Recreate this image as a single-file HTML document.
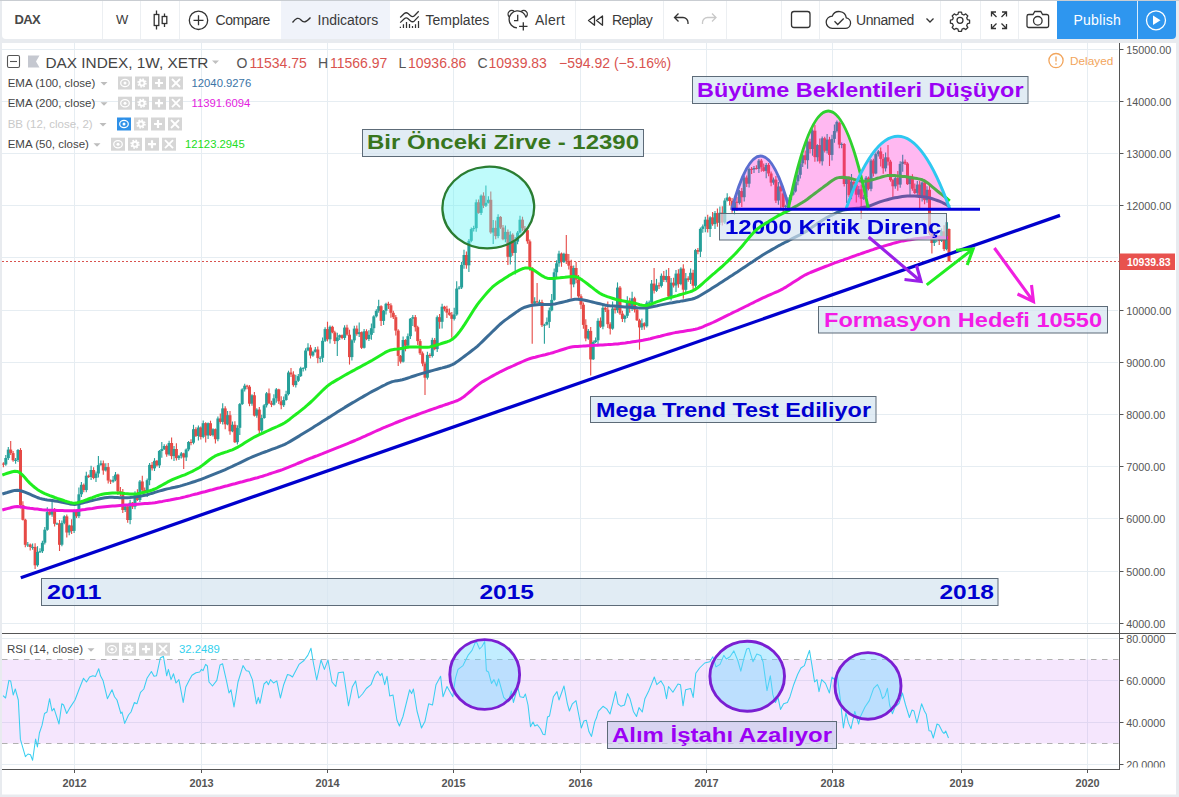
<!DOCTYPE html>
<html><head><meta charset="utf-8"><title>DAX</title>
<style>
html,body{margin:0;padding:0}
body{width:1179px;height:797px;overflow:hidden;position:relative;background:#e8ebef;font-family:"Liberation Sans",sans-serif;color:#333}
.tb{position:absolute;left:2px;top:1px;width:1174px;height:38px;background:#fff;border-radius:0 0 4px 4px}
.topline{position:absolute;left:0;top:0;width:1179px;height:1px;background:#c9cdd2}
.sep{position:absolute;top:1px;width:1px;height:38px;background:#eceff2}
.t{position:absolute;top:11.4px;font-size:14px;line-height:18px;color:#3a3a3a;white-space:nowrap}
.ax{font-family:"Liberation Sans",sans-serif;font-size:10.8px;fill:#555}
.tx{font-family:"Liberation Sans",sans-serif;font-size:10.9px;font-weight:bold;fill:#555}
.lb{font-family:"Liberation Sans",sans-serif;font-weight:bold}
.pl{font-family:"Liberation Sans",sans-serif}
.lg{position:absolute;left:7.7px;font-size:11.5px;line-height:14px;color:#444;white-space:nowrap}
.v{position:absolute;font-size:11.3px;line-height:14px;white-space:nowrap}
.btns{position:absolute;height:13px}
.btns i{position:absolute;top:0;width:14px;height:13px;background:#d6d6d6;display:block}
.oh{position:absolute;top:54px;font-size:14px;line-height:18px;white-space:nowrap;color:#d9534f}
.oh b{font-weight:normal;color:#555}
</style></head>
<body>
<svg width="1179" height="797" viewBox="0 0 1179 797" style="position:absolute;left:0;top:0">
<defs>
<clipPath id="cm"><rect x="2" y="43" width="1117.5" height="589.5"/></clipPath>
<clipPath id="ca"><rect x="1118" y="43" width="60" height="724.4"/></clipPath>
<clipPath id="cr"><rect x="2" y="634.5" width="1117.5" height="134.5"/></clipPath>
</defs>
<rect x="2" y="43" width="1174" height="751.5" fill="#fff"/>
<g stroke="#e6edf2" stroke-width="1" fill="none">
<path d="M74.5 43V632M74.5 634.5V769" />
<path d="M201.5 43V632M201.5 634.5V769" />
<path d="M327.5 43V632M327.5 634.5V769" />
<path d="M453.5 43V632M453.5 634.5V769" />
<path d="M580.5 43V632M580.5 634.5V769" />
<path d="M706.5 43V632M706.5 634.5V769" />
<path d="M832.5 43V632M832.5 634.5V769" />
<path d="M961.5 43V632M961.5 634.5V769" />
<path d="M1087.5 43V632M1087.5 634.5V769" />
<path d="M2 623.5H1118" />
<path d="M2 571.5H1118" />
<path d="M2 518.5H1118" />
<path d="M2 466.5H1118" />
<path d="M2 414.5H1118" />
<path d="M2 362.5H1118" />
<path d="M2 310.5H1118" />
<path d="M2 257.5H1118" />
<path d="M2 205.5H1118" />
<path d="M2 153.5H1118" />
<path d="M2 101.5H1118" />
<path d="M2 49.5H1118" />
<path d="M2 638.5H1118" />
<path d="M2 680.5H1118" />
<path d="M2 722.5H1118" />
<path d="M2 764.5H1118" />
</g>
<!-- RSI band -->
<rect x="2" y="659.5" width="1117" height="84" fill="rgba(205,130,245,0.20)"/>
<path d="M2 659.5H1119M2 743.5H1119" stroke="#b0b0b0" stroke-width="1" stroke-dasharray="5.5 5.5" fill="none"/>
<g clip-path="url(#cr)">
<path d="M3.0 695.6 L5.6 698.0 L8.9 680.4 L10.7 681.0 L13.2 695.0 L15.3 689.0 L18.3 700.0 L20.4 739.4 L25.4 756.7 L28.0 754.0 L30.5 754.7 L32.6 760.3 L35.6 739.0 L37.4 747.0 L39.4 733.0 L42.0 725.4 L44.5 713.5 L47.0 712.0 L49.6 698.7 L52.0 711.0 L54.0 708.4 L59.0 724.0 L61.8 703.8 L63.6 705.0 L66.7 713.5 L70.0 707.6 L75.0 700.0 L78.9 689.8 L83.5 678.3 L86.5 682.0 L89.6 677.0 L92.9 675.8 L95.4 676.6 L98.7 668.7 L100.5 675.8 L103.0 680.4 L107.4 698.7 L112.0 689.8 L114.5 696.7 L117.0 700.0 L120.9 713.5 L122.0 712.0 L124.7 723.4 L128.5 715.0 L131.0 712.0 L134.4 702.5 L136.9 703.8 L140.5 692.3 L143.8 689.0 L147.0 678.3 L151.4 671.5 L154.0 676.3 L156.5 675.8 L160.3 658.0 L163.4 656.2 L166.7 675.8 L168.4 669.4 L171.0 679.6 L173.5 673.8 L176.0 683.0 L178.9 679.6 L183.2 702.5 L185.8 687.0 L189.6 679.6 L192.0 675.3 L196.0 672.7 L199.7 672.0 L201.5 669.4 L203.0 670.7 L205.6 664.4 L207.4 666.0 L209.0 682.0 L212.5 686.0 L216.8 680.4 L220.0 665.0 L222.6 663.8 L226.5 680.9 L229.0 693.0 L231.0 689.8 L234.0 707.0 L238.0 682.0 L243.0 665.6 L246.3 670.7 L248.9 671.2 L252.4 679.6 L256.5 703.8 L258.3 697.4 L260.0 703.3 L264.0 684.0 L266.7 681.4 L268.4 684.7 L270.5 679.6 L273.5 683.0 L276.8 680.9 L280.4 698.0 L283.7 684.7 L287.5 674.5 L290.0 675.3 L292.5 677.0 L299.0 664.4 L304.0 660.5 L307.8 655.4 L311.0 648.3 L313.4 663.0 L316.7 680.0 L321.0 660.0 L324.4 669.4 L328.0 660.0 L332.0 682.0 L335.8 686.5 L338.3 672.7 L343.4 672.0 L348.5 705.8 L352.3 687.0 L355.6 680.9 L358.7 698.0 L362.5 694.0 L366.3 688.5 L371.0 684.7 L375.0 674.5 L377.8 671.2 L380.3 675.8 L382.0 673.3 L384.7 684.7 L387.0 676.3 L389.7 696.0 L393.0 695.0 L396.9 720.0 L399.4 726.0 L403.0 716.5 L409.6 689.8 L411.6 693.6 L413.4 689.0 L417.0 711.0 L421.5 728.0 L424.9 721.6 L428.7 703.8 L432.5 705.0 L436.0 684.7 L440.6 676.3 L443.0 696.7 L447.0 686.5 L452.8 696.7 L455.4 678.3 L458.0 669.4 L463.0 665.6 L468.0 655.4 L472.0 650.4 L476.0 640.7 L479.6 649.0 L482.0 646.5 L484.7 641.5 L486.4 670.7 L488.5 672.0 L491.5 683.4 L494.0 679.6 L496.6 686.0 L498.6 678.9 L503.7 697.4 L508.3 701.8 L511.4 691.0 L513.4 702.5 L517.7 687.0 L520.0 696.7 L523.6 697.4 L525.4 694.0 L528.0 705.0 L530.5 726.7 L533.0 722.0 L534.8 726.0 L537.3 724.7 L540.6 729.0 L543.0 734.3 L545.0 734.8 L547.5 717.0 L549.5 716.0 L553.4 696.7 L557.0 691.6 L559.0 700.0 L564.0 686.0 L567.4 703.8 L569.4 711.0 L572.4 703.8 L576.0 700.7 L581.3 728.0 L583.9 721.0 L586.4 720.3 L589.0 731.8 L591.5 736.4 L594.8 721.6 L596.5 717.8 L598.3 711.4 L603.0 706.3 L606.7 708.9 L610.0 714.0 L612.6 703.8 L615.6 691.6 L618.0 703.8 L621.0 706.3 L624.5 705.0 L627.6 693.6 L630.0 698.7 L633.4 711.4 L636.5 716.5 L639.0 707.6 L642.3 712.0 L644.9 698.7 L648.7 691.0 L651.8 683.4 L654.3 677.0 L656.8 684.7 L661.0 680.9 L664.0 686.0 L666.5 698.7 L668.5 686.5 L672.9 692.3 L678.0 684.0 L680.5 684.7 L683.0 705.8 L685.6 689.8 L690.7 688.5 L693.2 697.4 L695.8 673.3 L699.6 668.0 L704.7 663.0 L709.8 661.8 L712.8 656.7 L716.0 666.9 L720.0 664.4 L723.8 655.4 L726.3 659.0 L730.0 656.7 L733.9 650.9 L737.8 660.5 L740.8 671.2 L744.0 658.0 L746.7 649.0 L749.0 648.3 L753.0 661.8 L756.8 654.0 L760.7 655.4 L763.0 661.8 L767.0 690.6 L770.3 675.8 L772.9 694.9 L775.4 702.5 L778.0 697.4 L780.5 709.4 L783.6 703.8 L787.4 702.5 L790.0 696.7 L793.7 684.7 L797.6 674.5 L800.9 668.0 L804.4 665.6 L807.7 655.4 L809.5 650.4 L812.0 665.6 L814.6 682.0 L817.0 679.6 L819.0 691.6 L821.7 679.6 L825.5 683.4 L829.4 693.0 L832.0 677.0 L834.5 679.6 L837.0 673.3 L840.0 696.7 L843.4 728.0 L845.9 712.7 L848.4 722.9 L851.0 728.7 L854.8 711.4 L858.6 724.0 L860.5 716.5 L865.0 707.0 L869.3 700.6 L873.6 688.3 L877.4 684.6 L880.0 690.0 L882.5 698.7 L885.0 696.0 L887.4 688.3 L889.6 705.0 L892.4 713.7 L895.0 707.0 L899.0 703.4 L902.4 693.0 L905.6 705.0 L909.4 717.5 L912.0 710.0 L914.0 711.0 L916.9 723.0 L921.6 703.8 L924.4 711.0 L926.3 714.3 L929.0 730.7 L931.0 731.0 L933.3 738.0 L937.0 724.0 L939.0 725.0 L942.3 731.6 L944.0 733.5 L945.7 731.0 L948.5 738.0" fill="none" stroke="#3acff0" stroke-width="1.05" stroke-linejoin="round"/>
</g>
<g clip-path="url(#cm)">
<!-- current price line -->
<path d="M2 261.5H1119.5" stroke="#d9534f" stroke-width="1" stroke-dasharray="2 2" fill="none"/>
<g>
<path d="M3.4 462.2V467.3" stroke="#e64a46" stroke-width="1.1"/>
<rect x="1.9" y="463.6" width="3" height="1.0" fill="#e64a46"/>
<path d="M5.8 454.9V465.8" stroke="#26a09a" stroke-width="1.1"/>
<rect x="4.3" y="458.0" width="3" height="6.5" fill="#26a09a"/>
<path d="M8.3 446.9V459.9" stroke="#26a09a" stroke-width="1.1"/>
<rect x="6.8" y="449.6" width="3" height="8.5" fill="#26a09a"/>
<path d="M10.7 441.0V454.9" stroke="#e64a46" stroke-width="1.1"/>
<rect x="9.2" y="449.6" width="3" height="3.5" fill="#e64a46"/>
<path d="M13.1 450.9V461.7" stroke="#e64a46" stroke-width="1.1"/>
<rect x="11.6" y="453.1" width="3" height="7.2" fill="#e64a46"/>
<path d="M15.6 458.0V463.8" stroke="#26a09a" stroke-width="1.1"/>
<rect x="14.1" y="459.9" width="3" height="1.0" fill="#26a09a"/>
<path d="M18.0 449.0V462.1" stroke="#26a09a" stroke-width="1.1"/>
<rect x="16.5" y="450.0" width="3" height="10.0" fill="#26a09a"/>
<path d="M20.5 448.1V508.4" stroke="#e64a46" stroke-width="1.1"/>
<rect x="19.0" y="450.0" width="3" height="55.1" fill="#e64a46"/>
<path d="M22.9 501.2V520.5" stroke="#e64a46" stroke-width="1.1"/>
<rect x="21.4" y="505.1" width="3" height="14.7" fill="#e64a46"/>
<path d="M25.3 518.8V547.2" stroke="#e64a46" stroke-width="1.1"/>
<rect x="23.8" y="519.7" width="3" height="25.1" fill="#e64a46"/>
<path d="M27.8 542.0V546.9" stroke="#26a09a" stroke-width="1.1"/>
<rect x="26.3" y="544.5" width="3" height="1.0" fill="#26a09a"/>
<path d="M30.2 543.5V550.4" stroke="#e64a46" stroke-width="1.1"/>
<rect x="28.7" y="544.5" width="3" height="2.5" fill="#e64a46"/>
<path d="M32.6 543.6V549.7" stroke="#26a09a" stroke-width="1.1"/>
<rect x="31.1" y="546.9" width="3" height="1.0" fill="#26a09a"/>
<path d="M35.1 543.2V569.0" stroke="#e64a46" stroke-width="1.1"/>
<rect x="33.6" y="546.9" width="3" height="18.4" fill="#e64a46"/>
<path d="M37.5 546.2V566.7" stroke="#26a09a" stroke-width="1.1"/>
<rect x="36.0" y="552.0" width="3" height="13.2" fill="#26a09a"/>
<path d="M40.0 548.3V553.1" stroke="#26a09a" stroke-width="1.1"/>
<rect x="38.5" y="551.2" width="3" height="1.0" fill="#26a09a"/>
<path d="M42.4 540.8V553.0" stroke="#26a09a" stroke-width="1.1"/>
<rect x="40.9" y="542.8" width="3" height="8.4" fill="#26a09a"/>
<path d="M44.8 527.0V544.6" stroke="#26a09a" stroke-width="1.1"/>
<rect x="43.3" y="529.7" width="3" height="13.0" fill="#26a09a"/>
<path d="M47.3 507.3V530.8" stroke="#26a09a" stroke-width="1.1"/>
<rect x="45.8" y="511.9" width="3" height="17.9" fill="#26a09a"/>
<path d="M49.7 510.0V515.6" stroke="#e64a46" stroke-width="1.1"/>
<rect x="48.2" y="511.9" width="3" height="2.7" fill="#e64a46"/>
<path d="M52.1 499.0V516.7" stroke="#26a09a" stroke-width="1.1"/>
<rect x="50.6" y="510.7" width="3" height="3.9" fill="#26a09a"/>
<path d="M54.6 508.1V526.6" stroke="#e64a46" stroke-width="1.1"/>
<rect x="53.1" y="510.7" width="3" height="13.1" fill="#e64a46"/>
<path d="M57.0 522.4V524.9" stroke="#26a09a" stroke-width="1.1"/>
<rect x="55.5" y="523.4" width="3" height="1.0" fill="#26a09a"/>
<path d="M59.5 520.0V551.0" stroke="#e64a46" stroke-width="1.1"/>
<rect x="58.0" y="523.4" width="3" height="21.4" fill="#e64a46"/>
<path d="M61.9 520.4V546.2" stroke="#26a09a" stroke-width="1.1"/>
<rect x="60.4" y="522.9" width="3" height="21.8" fill="#26a09a"/>
<path d="M64.3 515.3V524.2" stroke="#26a09a" stroke-width="1.1"/>
<rect x="62.8" y="516.4" width="3" height="6.5" fill="#26a09a"/>
<path d="M66.8 514.5V537.5" stroke="#e64a46" stroke-width="1.1"/>
<rect x="65.3" y="516.4" width="3" height="16.1" fill="#e64a46"/>
<path d="M69.2 524.8V535.2" stroke="#26a09a" stroke-width="1.1"/>
<rect x="67.7" y="525.5" width="3" height="7.0" fill="#26a09a"/>
<path d="M71.6 519.3V534.0" stroke="#e64a46" stroke-width="1.1"/>
<rect x="70.1" y="525.5" width="3" height="5.5" fill="#e64a46"/>
<path d="M74.1 509.6V533.1" stroke="#26a09a" stroke-width="1.1"/>
<rect x="72.6" y="511.2" width="3" height="19.7" fill="#26a09a"/>
<path d="M76.5 509.8V518.1" stroke="#e64a46" stroke-width="1.1"/>
<rect x="75.0" y="511.2" width="3" height="5.0" fill="#e64a46"/>
<path d="M78.9 487.6V518.0" stroke="#26a09a" stroke-width="1.1"/>
<rect x="77.4" y="494.3" width="3" height="21.9" fill="#26a09a"/>
<path d="M81.4 482.0V496.9" stroke="#26a09a" stroke-width="1.1"/>
<rect x="79.9" y="484.8" width="3" height="9.5" fill="#26a09a"/>
<path d="M83.8 483.4V492.2" stroke="#e64a46" stroke-width="1.1"/>
<rect x="82.3" y="484.8" width="3" height="5.2" fill="#e64a46"/>
<path d="M86.3 471.7V492.3" stroke="#26a09a" stroke-width="1.1"/>
<rect x="84.8" y="475.7" width="3" height="14.4" fill="#26a09a"/>
<path d="M88.7 474.6V478.1" stroke="#e64a46" stroke-width="1.1"/>
<rect x="87.2" y="475.7" width="3" height="1.3" fill="#e64a46"/>
<path d="M91.1 465.8V480.1" stroke="#26a09a" stroke-width="1.1"/>
<rect x="89.6" y="470.0" width="3" height="7.0" fill="#26a09a"/>
<path d="M93.6 467.2V479.3" stroke="#e64a46" stroke-width="1.1"/>
<rect x="92.1" y="470.0" width="3" height="8.0" fill="#e64a46"/>
<path d="M96.0 471.4V482.1" stroke="#26a09a" stroke-width="1.1"/>
<rect x="94.5" y="473.5" width="3" height="4.4" fill="#26a09a"/>
<path d="M98.4 456.0V477.6" stroke="#26a09a" stroke-width="1.1"/>
<rect x="96.9" y="465.1" width="3" height="8.4" fill="#26a09a"/>
<path d="M100.9 460.4V465.8" stroke="#26a09a" stroke-width="1.1"/>
<rect x="99.4" y="463.3" width="3" height="1.8" fill="#26a09a"/>
<path d="M103.3 460.5V474.7" stroke="#e64a46" stroke-width="1.1"/>
<rect x="101.8" y="463.3" width="3" height="7.2" fill="#e64a46"/>
<path d="M105.8 463.3V471.4" stroke="#26a09a" stroke-width="1.1"/>
<rect x="104.3" y="467.1" width="3" height="3.3" fill="#26a09a"/>
<path d="M108.2 463.1V483.5" stroke="#e64a46" stroke-width="1.1"/>
<rect x="106.7" y="467.1" width="3" height="13.4" fill="#e64a46"/>
<path d="M110.6 479.4V483.9" stroke="#e64a46" stroke-width="1.1"/>
<rect x="109.1" y="480.5" width="3" height="1.0" fill="#e64a46"/>
<path d="M113.1 475.9V482.8" stroke="#26a09a" stroke-width="1.1"/>
<rect x="111.6" y="479.8" width="3" height="1.8" fill="#26a09a"/>
<path d="M115.5 472.0V481.2" stroke="#26a09a" stroke-width="1.1"/>
<rect x="114.0" y="474.6" width="3" height="5.2" fill="#26a09a"/>
<path d="M117.9 473.7V494.9" stroke="#e64a46" stroke-width="1.1"/>
<rect x="116.4" y="474.6" width="3" height="16.7" fill="#e64a46"/>
<path d="M120.4 487.0V496.2" stroke="#e64a46" stroke-width="1.1"/>
<rect x="118.9" y="491.3" width="3" height="2.8" fill="#e64a46"/>
<path d="M122.8 489.1V513.0" stroke="#e64a46" stroke-width="1.1"/>
<rect x="121.3" y="494.1" width="3" height="15.9" fill="#e64a46"/>
<path d="M125.2 505.6V512.0" stroke="#26a09a" stroke-width="1.1"/>
<rect x="123.8" y="506.4" width="3" height="3.6" fill="#26a09a"/>
<path d="M127.7 504.6V522.8" stroke="#e64a46" stroke-width="1.1"/>
<rect x="126.2" y="506.4" width="3" height="13.6" fill="#e64a46"/>
<path d="M130.1 499.7V524.2" stroke="#26a09a" stroke-width="1.1"/>
<rect x="128.6" y="502.7" width="3" height="17.3" fill="#26a09a"/>
<path d="M132.6 502.0V509.1" stroke="#e64a46" stroke-width="1.1"/>
<rect x="131.1" y="502.7" width="3" height="3.9" fill="#e64a46"/>
<path d="M135.0 491.3V509.3" stroke="#26a09a" stroke-width="1.1"/>
<rect x="133.5" y="493.4" width="3" height="13.3" fill="#26a09a"/>
<path d="M137.4 489.3V500.9" stroke="#e64a46" stroke-width="1.1"/>
<rect x="135.9" y="493.4" width="3" height="6.6" fill="#e64a46"/>
<path d="M139.9 480.1V502.1" stroke="#26a09a" stroke-width="1.1"/>
<rect x="138.4" y="481.5" width="3" height="18.5" fill="#26a09a"/>
<path d="M142.3 475.8V492.6" stroke="#e64a46" stroke-width="1.1"/>
<rect x="140.8" y="481.5" width="3" height="8.4" fill="#e64a46"/>
<path d="M144.7 487.6V493.8" stroke="#e64a46" stroke-width="1.1"/>
<rect x="143.2" y="489.9" width="3" height="1.7" fill="#e64a46"/>
<path d="M147.2 478.5V497.0" stroke="#26a09a" stroke-width="1.1"/>
<rect x="145.7" y="480.2" width="3" height="11.4" fill="#26a09a"/>
<path d="M149.6 463.1V485.3" stroke="#26a09a" stroke-width="1.1"/>
<rect x="148.1" y="464.9" width="3" height="15.3" fill="#26a09a"/>
<path d="M152.1 462.1V470.5" stroke="#e64a46" stroke-width="1.1"/>
<rect x="150.6" y="464.9" width="3" height="3.4" fill="#e64a46"/>
<path d="M154.5 458.1V471.0" stroke="#26a09a" stroke-width="1.1"/>
<rect x="153.0" y="460.8" width="3" height="7.5" fill="#26a09a"/>
<path d="M156.9 460.0V466.6" stroke="#e64a46" stroke-width="1.1"/>
<rect x="155.4" y="460.8" width="3" height="4.6" fill="#e64a46"/>
<path d="M159.4 450.1V468.1" stroke="#26a09a" stroke-width="1.1"/>
<rect x="157.9" y="451.0" width="3" height="14.4" fill="#26a09a"/>
<path d="M161.8 442.0V457.8" stroke="#26a09a" stroke-width="1.1"/>
<rect x="160.3" y="449.1" width="3" height="1.9" fill="#26a09a"/>
<path d="M164.2 444.3V450.0" stroke="#26a09a" stroke-width="1.1"/>
<rect x="162.7" y="446.0" width="3" height="3.2" fill="#26a09a"/>
<path d="M166.7 444.5V456.7" stroke="#e64a46" stroke-width="1.1"/>
<rect x="165.2" y="446.0" width="3" height="8.4" fill="#e64a46"/>
<path d="M169.1 440.8V455.8" stroke="#26a09a" stroke-width="1.1"/>
<rect x="167.6" y="443.0" width="3" height="11.4" fill="#26a09a"/>
<path d="M171.6 437.4V459.2" stroke="#e64a46" stroke-width="1.1"/>
<rect x="170.1" y="443.0" width="3" height="13.1" fill="#e64a46"/>
<path d="M174.0 446.0V461.0" stroke="#26a09a" stroke-width="1.1"/>
<rect x="172.5" y="449.0" width="3" height="7.1" fill="#26a09a"/>
<path d="M176.4 443.3V460.6" stroke="#e64a46" stroke-width="1.1"/>
<rect x="174.9" y="449.0" width="3" height="9.1" fill="#e64a46"/>
<path d="M178.9 454.9V459.9" stroke="#26a09a" stroke-width="1.1"/>
<rect x="177.4" y="455.9" width="3" height="2.2" fill="#26a09a"/>
<path d="M181.3 452.0V458.4" stroke="#26a09a" stroke-width="1.1"/>
<rect x="179.8" y="453.4" width="3" height="2.5" fill="#26a09a"/>
<path d="M183.7 452.7V469.0" stroke="#e64a46" stroke-width="1.1"/>
<rect x="182.2" y="453.4" width="3" height="4.1" fill="#e64a46"/>
<path d="M186.2 448.5V461.1" stroke="#26a09a" stroke-width="1.1"/>
<rect x="184.7" y="449.5" width="3" height="7.9" fill="#26a09a"/>
<path d="M188.6 440.9V451.3" stroke="#26a09a" stroke-width="1.1"/>
<rect x="187.1" y="442.0" width="3" height="7.5" fill="#26a09a"/>
<path d="M191.0 439.2V445.2" stroke="#e64a46" stroke-width="1.1"/>
<rect x="189.5" y="442.0" width="3" height="1.0" fill="#e64a46"/>
<path d="M193.5 424.8V444.3" stroke="#26a09a" stroke-width="1.1"/>
<rect x="192.0" y="429.2" width="3" height="13.5" fill="#26a09a"/>
<path d="M195.9 427.3V437.1" stroke="#e64a46" stroke-width="1.1"/>
<rect x="194.4" y="429.2" width="3" height="6.7" fill="#e64a46"/>
<path d="M198.4 425.4V440.6" stroke="#26a09a" stroke-width="1.1"/>
<rect x="196.9" y="427.5" width="3" height="8.5" fill="#26a09a"/>
<path d="M200.8 426.4V439.4" stroke="#e64a46" stroke-width="1.1"/>
<rect x="199.3" y="427.5" width="3" height="9.5" fill="#e64a46"/>
<path d="M203.2 420.4V438.2" stroke="#26a09a" stroke-width="1.1"/>
<rect x="201.7" y="423.2" width="3" height="13.7" fill="#26a09a"/>
<path d="M205.7 422.3V442.4" stroke="#e64a46" stroke-width="1.1"/>
<rect x="204.2" y="423.2" width="3" height="12.2" fill="#e64a46"/>
<path d="M208.1 422.5V439.0" stroke="#26a09a" stroke-width="1.1"/>
<rect x="206.6" y="423.2" width="3" height="12.3" fill="#26a09a"/>
<path d="M210.5 420.7V436.0" stroke="#e64a46" stroke-width="1.1"/>
<rect x="209.0" y="423.2" width="3" height="12.0" fill="#e64a46"/>
<path d="M213.0 428.3V436.5" stroke="#26a09a" stroke-width="1.1"/>
<rect x="211.5" y="429.2" width="3" height="6.0" fill="#26a09a"/>
<path d="M215.4 428.5V443.4" stroke="#e64a46" stroke-width="1.1"/>
<rect x="213.9" y="429.2" width="3" height="10.0" fill="#e64a46"/>
<path d="M217.9 416.4V441.3" stroke="#26a09a" stroke-width="1.1"/>
<rect x="216.4" y="418.5" width="3" height="20.7" fill="#26a09a"/>
<path d="M220.3 413.4V423.8" stroke="#e64a46" stroke-width="1.1"/>
<rect x="218.8" y="418.5" width="3" height="3.4" fill="#e64a46"/>
<path d="M222.7 403.3V424.5" stroke="#26a09a" stroke-width="1.1"/>
<rect x="221.2" y="408.4" width="3" height="13.5" fill="#26a09a"/>
<path d="M225.2 406.2V429.3" stroke="#e64a46" stroke-width="1.1"/>
<rect x="223.7" y="408.4" width="3" height="15.9" fill="#e64a46"/>
<path d="M227.6 411.1V425.2" stroke="#26a09a" stroke-width="1.1"/>
<rect x="226.1" y="415.2" width="3" height="9.2" fill="#26a09a"/>
<path d="M230.0 410.9V434.8" stroke="#e64a46" stroke-width="1.1"/>
<rect x="228.5" y="415.2" width="3" height="16.1" fill="#e64a46"/>
<path d="M232.5 421.5V432.2" stroke="#26a09a" stroke-width="1.1"/>
<rect x="231.0" y="424.8" width="3" height="6.5" fill="#26a09a"/>
<path d="M234.9 421.2V443.0" stroke="#e64a46" stroke-width="1.1"/>
<rect x="233.4" y="424.8" width="3" height="17.4" fill="#e64a46"/>
<path d="M237.4 425.3V444.6" stroke="#26a09a" stroke-width="1.1"/>
<rect x="235.9" y="427.8" width="3" height="14.4" fill="#26a09a"/>
<path d="M239.8 403.0V435.1" stroke="#26a09a" stroke-width="1.1"/>
<rect x="238.3" y="404.1" width="3" height="23.7" fill="#26a09a"/>
<path d="M242.2 388.2V405.1" stroke="#26a09a" stroke-width="1.1"/>
<rect x="240.7" y="389.4" width="3" height="14.7" fill="#26a09a"/>
<path d="M244.7 383.8V391.6" stroke="#26a09a" stroke-width="1.1"/>
<rect x="243.2" y="385.7" width="3" height="3.7" fill="#26a09a"/>
<path d="M247.1 384.8V389.2" stroke="#e64a46" stroke-width="1.1"/>
<rect x="245.6" y="385.7" width="3" height="1.0" fill="#e64a46"/>
<path d="M249.5 385.1V406.2" stroke="#e64a46" stroke-width="1.1"/>
<rect x="248.0" y="386.7" width="3" height="17.0" fill="#e64a46"/>
<path d="M252.0 394.3V405.7" stroke="#26a09a" stroke-width="1.1"/>
<rect x="250.5" y="395.3" width="3" height="8.4" fill="#26a09a"/>
<path d="M254.4 391.9V416.6" stroke="#e64a46" stroke-width="1.1"/>
<rect x="252.9" y="395.3" width="3" height="20.3" fill="#e64a46"/>
<path d="M256.8 408.3V417.8" stroke="#26a09a" stroke-width="1.1"/>
<rect x="255.3" y="409.6" width="3" height="6.0" fill="#26a09a"/>
<path d="M259.3 407.1V433.5" stroke="#e64a46" stroke-width="1.1"/>
<rect x="257.8" y="409.6" width="3" height="20.9" fill="#e64a46"/>
<path d="M261.7 414.7V434.1" stroke="#26a09a" stroke-width="1.1"/>
<rect x="260.2" y="418.0" width="3" height="12.5" fill="#26a09a"/>
<path d="M264.2 404.0V418.8" stroke="#26a09a" stroke-width="1.1"/>
<rect x="262.7" y="405.3" width="3" height="12.7" fill="#26a09a"/>
<path d="M266.6 391.9V407.4" stroke="#26a09a" stroke-width="1.1"/>
<rect x="265.1" y="393.3" width="3" height="12.0" fill="#26a09a"/>
<path d="M269.0 388.5V404.0" stroke="#e64a46" stroke-width="1.1"/>
<rect x="267.5" y="393.3" width="3" height="10.0" fill="#e64a46"/>
<path d="M271.5 400.8V407.1" stroke="#e64a46" stroke-width="1.1"/>
<rect x="270.0" y="403.2" width="3" height="1.5" fill="#e64a46"/>
<path d="M273.9 394.3V405.5" stroke="#26a09a" stroke-width="1.1"/>
<rect x="272.4" y="398.3" width="3" height="6.4" fill="#26a09a"/>
<path d="M276.3 388.0V402.8" stroke="#26a09a" stroke-width="1.1"/>
<rect x="274.8" y="389.4" width="3" height="8.9" fill="#26a09a"/>
<path d="M278.8 388.7V403.9" stroke="#e64a46" stroke-width="1.1"/>
<rect x="277.3" y="389.4" width="3" height="11.9" fill="#e64a46"/>
<path d="M281.2 396.2V409.2" stroke="#e64a46" stroke-width="1.1"/>
<rect x="279.7" y="401.3" width="3" height="3.9" fill="#e64a46"/>
<path d="M283.7 396.4V407.0" stroke="#26a09a" stroke-width="1.1"/>
<rect x="282.2" y="400.0" width="3" height="5.2" fill="#26a09a"/>
<path d="M286.1 390.7V400.8" stroke="#26a09a" stroke-width="1.1"/>
<rect x="284.6" y="394.2" width="3" height="5.8" fill="#26a09a"/>
<path d="M288.5 370.7V395.4" stroke="#26a09a" stroke-width="1.1"/>
<rect x="287.0" y="372.5" width="3" height="21.6" fill="#26a09a"/>
<path d="M291.0 367.9V377.0" stroke="#e64a46" stroke-width="1.1"/>
<rect x="289.5" y="372.5" width="3" height="1.9" fill="#e64a46"/>
<path d="M293.4 371.3V386.7" stroke="#e64a46" stroke-width="1.1"/>
<rect x="291.9" y="374.4" width="3" height="10.7" fill="#e64a46"/>
<path d="M295.8 374.8V387.6" stroke="#26a09a" stroke-width="1.1"/>
<rect x="294.3" y="380.8" width="3" height="4.3" fill="#26a09a"/>
<path d="M298.3 374.1V381.9" stroke="#26a09a" stroke-width="1.1"/>
<rect x="296.8" y="376.1" width="3" height="4.7" fill="#26a09a"/>
<path d="M300.7 366.7V377.0" stroke="#26a09a" stroke-width="1.1"/>
<rect x="299.2" y="368.3" width="3" height="7.8" fill="#26a09a"/>
<path d="M303.2 367.2V371.6" stroke="#26a09a" stroke-width="1.1"/>
<rect x="301.7" y="367.9" width="3" height="1.0" fill="#26a09a"/>
<path d="M305.6 348.2V370.6" stroke="#26a09a" stroke-width="1.1"/>
<rect x="304.1" y="350.5" width="3" height="17.4" fill="#26a09a"/>
<path d="M308.0 343.2V351.3" stroke="#26a09a" stroke-width="1.1"/>
<rect x="306.5" y="347.5" width="3" height="3.0" fill="#26a09a"/>
<path d="M310.5 344.9V358.5" stroke="#e64a46" stroke-width="1.1"/>
<rect x="309.0" y="347.5" width="3" height="8.0" fill="#e64a46"/>
<path d="M312.9 350.7V356.7" stroke="#26a09a" stroke-width="1.1"/>
<rect x="311.4" y="351.8" width="3" height="3.7" fill="#26a09a"/>
<path d="M315.3 347.0V352.6" stroke="#26a09a" stroke-width="1.1"/>
<rect x="313.8" y="349.5" width="3" height="2.3" fill="#26a09a"/>
<path d="M317.8 346.5V363.3" stroke="#e64a46" stroke-width="1.1"/>
<rect x="316.3" y="349.5" width="3" height="8.6" fill="#e64a46"/>
<path d="M320.2 356.2V362.7" stroke="#26a09a" stroke-width="1.1"/>
<rect x="318.7" y="357.8" width="3" height="1.0" fill="#26a09a"/>
<path d="M322.6 337.4V362.1" stroke="#26a09a" stroke-width="1.1"/>
<rect x="321.1" y="340.8" width="3" height="17.0" fill="#26a09a"/>
<path d="M325.1 327.3V342.1" stroke="#26a09a" stroke-width="1.1"/>
<rect x="323.6" y="329.1" width="3" height="11.7" fill="#26a09a"/>
<path d="M327.5 321.7V341.4" stroke="#e64a46" stroke-width="1.1"/>
<rect x="326.0" y="329.1" width="3" height="10.1" fill="#e64a46"/>
<path d="M330.0 325.4V343.4" stroke="#26a09a" stroke-width="1.1"/>
<rect x="328.5" y="326.8" width="3" height="12.5" fill="#26a09a"/>
<path d="M332.4 325.8V333.3" stroke="#e64a46" stroke-width="1.1"/>
<rect x="330.9" y="326.8" width="3" height="5.6" fill="#e64a46"/>
<path d="M334.8 330.8V344.0" stroke="#e64a46" stroke-width="1.1"/>
<rect x="333.3" y="332.4" width="3" height="8.7" fill="#e64a46"/>
<path d="M337.3 332.8V356.0" stroke="#26a09a" stroke-width="1.1"/>
<rect x="335.8" y="337.4" width="3" height="3.7" fill="#26a09a"/>
<path d="M339.7 334.5V339.9" stroke="#26a09a" stroke-width="1.1"/>
<rect x="338.2" y="335.2" width="3" height="2.2" fill="#26a09a"/>
<path d="M342.1 334.4V339.3" stroke="#e64a46" stroke-width="1.1"/>
<rect x="340.6" y="335.2" width="3" height="2.8" fill="#e64a46"/>
<path d="M344.6 325.3V339.9" stroke="#26a09a" stroke-width="1.1"/>
<rect x="343.1" y="327.6" width="3" height="10.3" fill="#26a09a"/>
<path d="M347.0 324.7V335.8" stroke="#e64a46" stroke-width="1.1"/>
<rect x="345.5" y="327.6" width="3" height="7.0" fill="#e64a46"/>
<path d="M349.5 329.7V364.6" stroke="#e64a46" stroke-width="1.1"/>
<rect x="348.0" y="334.7" width="3" height="22.4" fill="#e64a46"/>
<path d="M351.9 339.2V360.5" stroke="#26a09a" stroke-width="1.1"/>
<rect x="350.4" y="340.3" width="3" height="16.8" fill="#26a09a"/>
<path d="M354.3 325.8V342.7" stroke="#26a09a" stroke-width="1.1"/>
<rect x="352.8" y="328.6" width="3" height="11.8" fill="#26a09a"/>
<path d="M356.8 325.4V335.8" stroke="#e64a46" stroke-width="1.1"/>
<rect x="355.3" y="328.6" width="3" height="5.5" fill="#e64a46"/>
<path d="M359.2 322.4V336.9" stroke="#26a09a" stroke-width="1.1"/>
<rect x="357.7" y="332.2" width="3" height="1.9" fill="#26a09a"/>
<path d="M361.6 331.4V349.1" stroke="#e64a46" stroke-width="1.1"/>
<rect x="360.1" y="332.2" width="3" height="15.6" fill="#e64a46"/>
<path d="M364.1 328.9V348.6" stroke="#26a09a" stroke-width="1.1"/>
<rect x="362.6" y="331.3" width="3" height="16.5" fill="#26a09a"/>
<path d="M366.5 329.3V340.2" stroke="#e64a46" stroke-width="1.1"/>
<rect x="365.0" y="331.3" width="3" height="7.8" fill="#e64a46"/>
<path d="M368.9 330.3V341.0" stroke="#26a09a" stroke-width="1.1"/>
<rect x="367.4" y="334.8" width="3" height="4.2" fill="#26a09a"/>
<path d="M371.4 323.4V339.8" stroke="#26a09a" stroke-width="1.1"/>
<rect x="369.9" y="328.2" width="3" height="6.6" fill="#26a09a"/>
<path d="M373.8 315.3V333.1" stroke="#26a09a" stroke-width="1.1"/>
<rect x="372.3" y="316.4" width="3" height="11.8" fill="#26a09a"/>
<path d="M376.3 309.3V317.4" stroke="#26a09a" stroke-width="1.1"/>
<rect x="374.8" y="310.9" width="3" height="5.5" fill="#26a09a"/>
<path d="M378.7 299.8V312.7" stroke="#26a09a" stroke-width="1.1"/>
<rect x="377.2" y="306.2" width="3" height="4.7" fill="#26a09a"/>
<path d="M381.1 305.2V325.9" stroke="#e64a46" stroke-width="1.1"/>
<rect x="379.6" y="306.2" width="3" height="14.7" fill="#e64a46"/>
<path d="M383.6 309.9V325.0" stroke="#26a09a" stroke-width="1.1"/>
<rect x="382.1" y="310.7" width="3" height="10.2" fill="#26a09a"/>
<path d="M386.0 302.8V314.5" stroke="#26a09a" stroke-width="1.1"/>
<rect x="384.5" y="303.8" width="3" height="6.9" fill="#26a09a"/>
<path d="M388.4 301.8V308.9" stroke="#e64a46" stroke-width="1.1"/>
<rect x="386.9" y="303.8" width="3" height="1.5" fill="#e64a46"/>
<path d="M390.9 303.2V317.7" stroke="#e64a46" stroke-width="1.1"/>
<rect x="389.4" y="305.3" width="3" height="7.5" fill="#e64a46"/>
<path d="M393.3 310.7V319.0" stroke="#e64a46" stroke-width="1.1"/>
<rect x="391.8" y="312.8" width="3" height="4.4" fill="#e64a46"/>
<path d="M395.8 315.1V335.5" stroke="#e64a46" stroke-width="1.1"/>
<rect x="394.3" y="317.2" width="3" height="13.4" fill="#e64a46"/>
<path d="M398.2 329.2V366.0" stroke="#e64a46" stroke-width="1.1"/>
<rect x="396.7" y="330.6" width="3" height="25.3" fill="#e64a46"/>
<path d="M400.6 355.1V363.4" stroke="#e64a46" stroke-width="1.1"/>
<rect x="399.1" y="355.9" width="3" height="5.8" fill="#e64a46"/>
<path d="M403.1 336.5V362.6" stroke="#26a09a" stroke-width="1.1"/>
<rect x="401.6" y="340.0" width="3" height="21.7" fill="#26a09a"/>
<path d="M405.5 339.2V351.3" stroke="#e64a46" stroke-width="1.1"/>
<rect x="404.0" y="340.0" width="3" height="5.6" fill="#e64a46"/>
<path d="M407.9 333.6V348.6" stroke="#26a09a" stroke-width="1.1"/>
<rect x="406.4" y="336.2" width="3" height="9.4" fill="#26a09a"/>
<path d="M410.4 318.0V338.9" stroke="#26a09a" stroke-width="1.1"/>
<rect x="408.9" y="318.7" width="3" height="17.5" fill="#26a09a"/>
<path d="M412.8 315.0V326.0" stroke="#26a09a" stroke-width="1.1"/>
<rect x="411.3" y="317.2" width="3" height="1.5" fill="#26a09a"/>
<path d="M415.3 315.1V331.5" stroke="#e64a46" stroke-width="1.1"/>
<rect x="413.8" y="317.2" width="3" height="10.0" fill="#e64a46"/>
<path d="M417.7 325.7V344.9" stroke="#e64a46" stroke-width="1.1"/>
<rect x="416.2" y="327.2" width="3" height="13.9" fill="#e64a46"/>
<path d="M420.1 339.1V355.1" stroke="#e64a46" stroke-width="1.1"/>
<rect x="418.6" y="341.1" width="3" height="12.2" fill="#e64a46"/>
<path d="M422.6 351.5V366.2" stroke="#e64a46" stroke-width="1.1"/>
<rect x="421.1" y="353.3" width="3" height="10.3" fill="#e64a46"/>
<path d="M425.0 361.8V395.0" stroke="#e64a46" stroke-width="1.1"/>
<rect x="423.5" y="363.6" width="3" height="14.1" fill="#e64a46"/>
<path d="M427.4 351.8V379.5" stroke="#26a09a" stroke-width="1.1"/>
<rect x="425.9" y="354.9" width="3" height="22.8" fill="#26a09a"/>
<path d="M429.9 353.2V358.1" stroke="#e64a46" stroke-width="1.1"/>
<rect x="428.4" y="354.9" width="3" height="1.1" fill="#e64a46"/>
<path d="M432.3 337.7V357.4" stroke="#26a09a" stroke-width="1.1"/>
<rect x="430.8" y="339.9" width="3" height="16.1" fill="#26a09a"/>
<path d="M434.7 338.1V350.3" stroke="#e64a46" stroke-width="1.1"/>
<rect x="433.2" y="339.9" width="3" height="9.2" fill="#e64a46"/>
<path d="M437.2 315.6V351.9" stroke="#26a09a" stroke-width="1.1"/>
<rect x="435.7" y="317.2" width="3" height="31.9" fill="#26a09a"/>
<path d="M439.6 314.1V328.7" stroke="#e64a46" stroke-width="1.1"/>
<rect x="438.1" y="317.2" width="3" height="4.6" fill="#e64a46"/>
<path d="M442.1 303.8V328.5" stroke="#26a09a" stroke-width="1.1"/>
<rect x="440.6" y="306.7" width="3" height="15.1" fill="#26a09a"/>
<path d="M444.5 305.8V311.3" stroke="#e64a46" stroke-width="1.1"/>
<rect x="443.0" y="306.7" width="3" height="2.1" fill="#e64a46"/>
<path d="M446.9 305.8V317.9" stroke="#e64a46" stroke-width="1.1"/>
<rect x="445.4" y="308.8" width="3" height="3.8" fill="#e64a46"/>
<path d="M449.4 308.5V315.8" stroke="#e64a46" stroke-width="1.1"/>
<rect x="447.9" y="312.6" width="3" height="2.2" fill="#e64a46"/>
<path d="M451.8 312.1V337.8" stroke="#e64a46" stroke-width="1.1"/>
<rect x="450.3" y="314.7" width="3" height="4.1" fill="#e64a46"/>
<path d="M454.2 307.7V320.4" stroke="#26a09a" stroke-width="1.1"/>
<rect x="452.7" y="314.5" width="3" height="4.4" fill="#26a09a"/>
<path d="M456.7 281.2V315.7" stroke="#26a09a" stroke-width="1.1"/>
<rect x="455.2" y="288.6" width="3" height="25.9" fill="#26a09a"/>
<path d="M459.1 285.9V289.4" stroke="#26a09a" stroke-width="1.1"/>
<rect x="457.6" y="287.6" width="3" height="1.1" fill="#26a09a"/>
<path d="M461.6 262.0V289.0" stroke="#26a09a" stroke-width="1.1"/>
<rect x="460.1" y="264.9" width="3" height="22.6" fill="#26a09a"/>
<path d="M464.0 249.8V268.7" stroke="#26a09a" stroke-width="1.1"/>
<rect x="462.5" y="255.0" width="3" height="9.9" fill="#26a09a"/>
<path d="M466.4 251.5V268.7" stroke="#e64a46" stroke-width="1.1"/>
<rect x="464.9" y="255.0" width="3" height="10.2" fill="#e64a46"/>
<path d="M468.9 239.1V272.0" stroke="#26a09a" stroke-width="1.1"/>
<rect x="467.4" y="240.8" width="3" height="24.5" fill="#26a09a"/>
<path d="M471.3 227.6V242.3" stroke="#26a09a" stroke-width="1.1"/>
<rect x="469.8" y="229.1" width="3" height="11.7" fill="#26a09a"/>
<path d="M473.7 225.7V231.6" stroke="#26a09a" stroke-width="1.1"/>
<rect x="472.2" y="228.1" width="3" height="1.0" fill="#26a09a"/>
<path d="M476.2 199.6V231.8" stroke="#26a09a" stroke-width="1.1"/>
<rect x="474.7" y="202.3" width="3" height="25.9" fill="#26a09a"/>
<path d="M478.6 199.4V213.8" stroke="#e64a46" stroke-width="1.1"/>
<rect x="477.1" y="202.3" width="3" height="10.6" fill="#e64a46"/>
<path d="M481.1 194.5V215.0" stroke="#26a09a" stroke-width="1.1"/>
<rect x="479.6" y="195.7" width="3" height="17.2" fill="#26a09a"/>
<path d="M483.5 192.3V208.1" stroke="#e64a46" stroke-width="1.1"/>
<rect x="482.0" y="195.7" width="3" height="10.0" fill="#e64a46"/>
<path d="M485.9 185.6V206.9" stroke="#26a09a" stroke-width="1.1"/>
<rect x="484.4" y="202.8" width="3" height="2.9" fill="#26a09a"/>
<path d="M488.4 196.2V203.6" stroke="#26a09a" stroke-width="1.1"/>
<rect x="486.9" y="199.8" width="3" height="3.0" fill="#26a09a"/>
<path d="M490.8 191.4V233.7" stroke="#e64a46" stroke-width="1.1"/>
<rect x="489.3" y="199.8" width="3" height="32.6" fill="#e64a46"/>
<path d="M493.2 219.9V244.0" stroke="#26a09a" stroke-width="1.1"/>
<rect x="491.7" y="227.9" width="3" height="4.6" fill="#26a09a"/>
<path d="M495.7 220.6V239.3" stroke="#e64a46" stroke-width="1.1"/>
<rect x="494.2" y="227.9" width="3" height="8.2" fill="#e64a46"/>
<path d="M498.1 214.3V238.2" stroke="#26a09a" stroke-width="1.1"/>
<rect x="496.6" y="216.9" width="3" height="19.2" fill="#26a09a"/>
<path d="M500.5 216.1V228.9" stroke="#e64a46" stroke-width="1.1"/>
<rect x="499.0" y="216.9" width="3" height="10.7" fill="#e64a46"/>
<path d="M503.0 225.1V240.3" stroke="#e64a46" stroke-width="1.1"/>
<rect x="501.5" y="227.6" width="3" height="11.6" fill="#e64a46"/>
<path d="M505.4 225.6V242.3" stroke="#26a09a" stroke-width="1.1"/>
<rect x="503.9" y="231.9" width="3" height="7.3" fill="#26a09a"/>
<path d="M507.9 229.4V265.0" stroke="#e64a46" stroke-width="1.1"/>
<rect x="506.4" y="231.9" width="3" height="24.9" fill="#e64a46"/>
<path d="M510.3 231.2V264.6" stroke="#26a09a" stroke-width="1.1"/>
<rect x="508.8" y="234.7" width="3" height="22.1" fill="#26a09a"/>
<path d="M512.7 233.3V255.7" stroke="#e64a46" stroke-width="1.1"/>
<rect x="511.2" y="234.7" width="3" height="18.2" fill="#e64a46"/>
<path d="M515.2 237.1V274.5" stroke="#26a09a" stroke-width="1.1"/>
<rect x="513.7" y="241.6" width="3" height="11.3" fill="#26a09a"/>
<path d="M517.6 231.0V244.3" stroke="#26a09a" stroke-width="1.1"/>
<rect x="516.1" y="232.6" width="3" height="9.0" fill="#26a09a"/>
<path d="M520.0 215.7V233.4" stroke="#26a09a" stroke-width="1.1"/>
<rect x="518.5" y="219.7" width="3" height="12.9" fill="#26a09a"/>
<path d="M522.5 216.7V231.1" stroke="#e64a46" stroke-width="1.1"/>
<rect x="521.0" y="219.7" width="3" height="8.6" fill="#e64a46"/>
<path d="M524.9 226.1V231.3" stroke="#e64a46" stroke-width="1.1"/>
<rect x="523.4" y="228.4" width="3" height="1.9" fill="#e64a46"/>
<path d="M527.4 227.4V243.7" stroke="#e64a46" stroke-width="1.1"/>
<rect x="525.9" y="230.2" width="3" height="11.1" fill="#e64a46"/>
<path d="M529.8 239.6V270.7" stroke="#e64a46" stroke-width="1.1"/>
<rect x="528.3" y="241.4" width="3" height="26.4" fill="#e64a46"/>
<path d="M532.2 267.0V343.8" stroke="#e64a46" stroke-width="1.1"/>
<rect x="530.7" y="267.8" width="3" height="35.8" fill="#e64a46"/>
<path d="M534.7 297.2V306.0" stroke="#26a09a" stroke-width="1.1"/>
<rect x="533.2" y="301.3" width="3" height="2.3" fill="#26a09a"/>
<path d="M537.1 283.0V303.8" stroke="#e64a46" stroke-width="1.1"/>
<rect x="535.6" y="301.3" width="3" height="1.0" fill="#e64a46"/>
<path d="M539.5 299.7V302.9" stroke="#26a09a" stroke-width="1.1"/>
<rect x="538.0" y="302.1" width="3" height="1.0" fill="#26a09a"/>
<path d="M542.0 299.8V327.0" stroke="#e64a46" stroke-width="1.1"/>
<rect x="540.5" y="302.1" width="3" height="23.1" fill="#e64a46"/>
<path d="M544.4 323.7V343.8" stroke="#26a09a" stroke-width="1.1"/>
<rect x="542.9" y="324.7" width="3" height="1.0" fill="#26a09a"/>
<path d="M546.9 317.4V325.5" stroke="#26a09a" stroke-width="1.1"/>
<rect x="545.4" y="321.9" width="3" height="2.7" fill="#26a09a"/>
<path d="M549.3 307.5V328.1" stroke="#26a09a" stroke-width="1.1"/>
<rect x="547.8" y="310.3" width="3" height="11.6" fill="#26a09a"/>
<path d="M551.7 293.9V311.3" stroke="#26a09a" stroke-width="1.1"/>
<rect x="550.2" y="299.9" width="3" height="10.5" fill="#26a09a"/>
<path d="M554.2 268.5V300.8" stroke="#26a09a" stroke-width="1.1"/>
<rect x="552.7" y="272.3" width="3" height="27.6" fill="#26a09a"/>
<path d="M556.6 260.2V277.0" stroke="#26a09a" stroke-width="1.1"/>
<rect x="555.1" y="263.3" width="3" height="9.0" fill="#26a09a"/>
<path d="M559.0 250.7V266.8" stroke="#26a09a" stroke-width="1.1"/>
<rect x="557.5" y="253.6" width="3" height="9.7" fill="#26a09a"/>
<path d="M561.5 252.5V266.8" stroke="#e64a46" stroke-width="1.1"/>
<rect x="560.0" y="253.6" width="3" height="8.5" fill="#e64a46"/>
<path d="M563.9 252.8V262.9" stroke="#26a09a" stroke-width="1.1"/>
<rect x="562.4" y="253.8" width="3" height="8.2" fill="#26a09a"/>
<path d="M566.3 235.0V264.1" stroke="#e64a46" stroke-width="1.1"/>
<rect x="564.8" y="253.8" width="3" height="7.0" fill="#e64a46"/>
<path d="M568.8 254.0V269.4" stroke="#e64a46" stroke-width="1.1"/>
<rect x="567.3" y="260.8" width="3" height="4.9" fill="#e64a46"/>
<path d="M571.2 259.8V298.6" stroke="#e64a46" stroke-width="1.1"/>
<rect x="569.7" y="265.8" width="3" height="18.6" fill="#e64a46"/>
<path d="M573.7 265.6V287.2" stroke="#26a09a" stroke-width="1.1"/>
<rect x="572.2" y="268.0" width="3" height="16.3" fill="#26a09a"/>
<path d="M576.1 261.9V283.3" stroke="#e64a46" stroke-width="1.1"/>
<rect x="574.6" y="268.0" width="3" height="11.6" fill="#e64a46"/>
<path d="M578.5 275.0V297.8" stroke="#e64a46" stroke-width="1.1"/>
<rect x="577.0" y="279.7" width="3" height="16.6" fill="#e64a46"/>
<path d="M581.0 294.2V309.0" stroke="#e64a46" stroke-width="1.1"/>
<rect x="579.5" y="296.3" width="3" height="8.4" fill="#e64a46"/>
<path d="M583.4 302.6V328.8" stroke="#e64a46" stroke-width="1.1"/>
<rect x="581.9" y="304.7" width="3" height="20.2" fill="#e64a46"/>
<path d="M585.8 319.3V341.3" stroke="#e64a46" stroke-width="1.1"/>
<rect x="584.3" y="324.9" width="3" height="13.6" fill="#e64a46"/>
<path d="M588.3 329.0V339.7" stroke="#26a09a" stroke-width="1.1"/>
<rect x="586.8" y="330.9" width="3" height="7.6" fill="#26a09a"/>
<path d="M590.7 326.9V375.4" stroke="#e64a46" stroke-width="1.1"/>
<rect x="589.2" y="330.9" width="3" height="28.5" fill="#e64a46"/>
<path d="M593.2 340.6V360.1" stroke="#26a09a" stroke-width="1.1"/>
<rect x="591.7" y="342.0" width="3" height="17.3" fill="#26a09a"/>
<path d="M595.6 337.6V343.0" stroke="#26a09a" stroke-width="1.1"/>
<rect x="594.1" y="340.3" width="3" height="1.7" fill="#26a09a"/>
<path d="M598.0 318.3V344.0" stroke="#26a09a" stroke-width="1.1"/>
<rect x="596.5" y="320.8" width="3" height="19.5" fill="#26a09a"/>
<path d="M600.5 317.4V327.9" stroke="#e64a46" stroke-width="1.1"/>
<rect x="599.0" y="320.8" width="3" height="5.9" fill="#e64a46"/>
<path d="M602.9 303.7V329.2" stroke="#26a09a" stroke-width="1.1"/>
<rect x="601.4" y="307.8" width="3" height="18.8" fill="#26a09a"/>
<path d="M605.3 306.4V311.9" stroke="#e64a46" stroke-width="1.1"/>
<rect x="603.8" y="307.8" width="3" height="1.9" fill="#e64a46"/>
<path d="M607.8 301.6V328.0" stroke="#e64a46" stroke-width="1.1"/>
<rect x="606.3" y="309.7" width="3" height="14.5" fill="#e64a46"/>
<path d="M610.2 322.2V334.5" stroke="#e64a46" stroke-width="1.1"/>
<rect x="608.7" y="324.2" width="3" height="4.5" fill="#e64a46"/>
<path d="M612.6 301.4V329.8" stroke="#26a09a" stroke-width="1.1"/>
<rect x="611.1" y="308.5" width="3" height="20.1" fill="#26a09a"/>
<path d="M615.1 304.9V313.4" stroke="#e64a46" stroke-width="1.1"/>
<rect x="613.6" y="308.5" width="3" height="1.7" fill="#e64a46"/>
<path d="M617.5 282.4V312.8" stroke="#26a09a" stroke-width="1.1"/>
<rect x="616.0" y="287.6" width="3" height="22.6" fill="#26a09a"/>
<path d="M620.0 286.1V315.0" stroke="#e64a46" stroke-width="1.1"/>
<rect x="618.5" y="287.6" width="3" height="25.9" fill="#e64a46"/>
<path d="M622.4 310.8V322.1" stroke="#e64a46" stroke-width="1.1"/>
<rect x="620.9" y="313.6" width="3" height="5.3" fill="#e64a46"/>
<path d="M624.8 314.8V322.5" stroke="#26a09a" stroke-width="1.1"/>
<rect x="623.3" y="315.8" width="3" height="3.1" fill="#26a09a"/>
<path d="M627.3 296.2V317.9" stroke="#26a09a" stroke-width="1.1"/>
<rect x="625.8" y="300.8" width="3" height="15.0" fill="#26a09a"/>
<path d="M629.7 297.7V312.7" stroke="#e64a46" stroke-width="1.1"/>
<rect x="628.2" y="300.8" width="3" height="7.4" fill="#e64a46"/>
<path d="M632.1 291.8V311.1" stroke="#26a09a" stroke-width="1.1"/>
<rect x="630.6" y="298.3" width="3" height="10.0" fill="#26a09a"/>
<path d="M634.6 296.8V312.5" stroke="#e64a46" stroke-width="1.1"/>
<rect x="633.1" y="298.3" width="3" height="11.4" fill="#e64a46"/>
<path d="M637.0 307.7V321.0" stroke="#e64a46" stroke-width="1.1"/>
<rect x="635.5" y="309.7" width="3" height="10.6" fill="#e64a46"/>
<path d="M639.5 318.8V349.7" stroke="#e64a46" stroke-width="1.1"/>
<rect x="638.0" y="320.3" width="3" height="7.1" fill="#e64a46"/>
<path d="M641.9 318.5V330.1" stroke="#26a09a" stroke-width="1.1"/>
<rect x="640.4" y="323.3" width="3" height="4.1" fill="#26a09a"/>
<path d="M644.3 322.3V329.7" stroke="#e64a46" stroke-width="1.1"/>
<rect x="642.8" y="323.3" width="3" height="2.9" fill="#e64a46"/>
<path d="M646.8 300.7V327.4" stroke="#26a09a" stroke-width="1.1"/>
<rect x="645.3" y="302.6" width="3" height="23.6" fill="#26a09a"/>
<path d="M649.2 300.5V306.3" stroke="#26a09a" stroke-width="1.1"/>
<rect x="647.7" y="302.3" width="3" height="1.0" fill="#26a09a"/>
<path d="M651.6 279.9V306.7" stroke="#26a09a" stroke-width="1.1"/>
<rect x="650.1" y="283.6" width="3" height="18.7" fill="#26a09a"/>
<path d="M654.1 268.0V293.4" stroke="#e64a46" stroke-width="1.1"/>
<rect x="652.6" y="283.6" width="3" height="7.1" fill="#e64a46"/>
<path d="M656.5 278.9V292.0" stroke="#26a09a" stroke-width="1.1"/>
<rect x="655.0" y="285.3" width="3" height="5.4" fill="#26a09a"/>
<path d="M659.0 282.6V289.0" stroke="#e64a46" stroke-width="1.1"/>
<rect x="657.5" y="285.3" width="3" height="1.0" fill="#e64a46"/>
<path d="M661.4 273.5V287.5" stroke="#26a09a" stroke-width="1.1"/>
<rect x="659.9" y="275.8" width="3" height="10.1" fill="#26a09a"/>
<path d="M663.8 271.0V282.1" stroke="#e64a46" stroke-width="1.1"/>
<rect x="662.3" y="275.8" width="3" height="4.1" fill="#e64a46"/>
<path d="M666.3 269.7V282.3" stroke="#26a09a" stroke-width="1.1"/>
<rect x="664.8" y="276.1" width="3" height="3.9" fill="#26a09a"/>
<path d="M668.7 267.9V297.7" stroke="#e64a46" stroke-width="1.1"/>
<rect x="667.2" y="276.1" width="3" height="20.4" fill="#e64a46"/>
<path d="M671.1 278.0V300.4" stroke="#26a09a" stroke-width="1.1"/>
<rect x="669.6" y="282.7" width="3" height="13.8" fill="#26a09a"/>
<path d="M673.6 277.8V287.4" stroke="#e64a46" stroke-width="1.1"/>
<rect x="672.1" y="282.7" width="3" height="2.8" fill="#e64a46"/>
<path d="M676.0 270.0V292.0" stroke="#26a09a" stroke-width="1.1"/>
<rect x="674.5" y="273.6" width="3" height="11.9" fill="#26a09a"/>
<path d="M678.4 269.2V287.8" stroke="#e64a46" stroke-width="1.1"/>
<rect x="676.9" y="273.6" width="3" height="10.5" fill="#e64a46"/>
<path d="M680.9 267.2V285.3" stroke="#26a09a" stroke-width="1.1"/>
<rect x="679.4" y="268.6" width="3" height="15.5" fill="#26a09a"/>
<path d="M683.3 264.2V298.7" stroke="#e64a46" stroke-width="1.1"/>
<rect x="681.8" y="268.6" width="3" height="21.1" fill="#e64a46"/>
<path d="M685.8 273.1V293.6" stroke="#26a09a" stroke-width="1.1"/>
<rect x="684.3" y="278.4" width="3" height="11.4" fill="#26a09a"/>
<path d="M688.2 276.2V281.7" stroke="#e64a46" stroke-width="1.1"/>
<rect x="686.7" y="278.4" width="3" height="1.5" fill="#e64a46"/>
<path d="M690.6 268.4V284.1" stroke="#26a09a" stroke-width="1.1"/>
<rect x="689.1" y="272.8" width="3" height="7.0" fill="#26a09a"/>
<path d="M693.1 269.7V289.6" stroke="#e64a46" stroke-width="1.1"/>
<rect x="691.6" y="272.8" width="3" height="12.9" fill="#e64a46"/>
<path d="M695.5 248.9V287.8" stroke="#26a09a" stroke-width="1.1"/>
<rect x="694.0" y="250.1" width="3" height="35.6" fill="#26a09a"/>
<path d="M697.9 248.1V254.2" stroke="#e64a46" stroke-width="1.1"/>
<rect x="696.4" y="250.1" width="3" height="1.6" fill="#e64a46"/>
<path d="M700.4 227.4V257.0" stroke="#26a09a" stroke-width="1.1"/>
<rect x="698.9" y="228.9" width="3" height="22.8" fill="#26a09a"/>
<path d="M702.8 224.6V232.8" stroke="#26a09a" stroke-width="1.1"/>
<rect x="701.3" y="226.4" width="3" height="2.5" fill="#26a09a"/>
<path d="M705.3 216.7V232.3" stroke="#26a09a" stroke-width="1.1"/>
<rect x="703.8" y="219.7" width="3" height="6.7" fill="#26a09a"/>
<path d="M707.7 214.8V232.6" stroke="#e64a46" stroke-width="1.1"/>
<rect x="706.2" y="219.7" width="3" height="9.3" fill="#e64a46"/>
<path d="M710.1 216.3V236.9" stroke="#26a09a" stroke-width="1.1"/>
<rect x="708.6" y="217.4" width="3" height="11.6" fill="#26a09a"/>
<path d="M712.6 212.0V225.8" stroke="#e64a46" stroke-width="1.1"/>
<rect x="711.1" y="217.4" width="3" height="6.8" fill="#e64a46"/>
<path d="M715.0 211.1V229.1" stroke="#26a09a" stroke-width="1.1"/>
<rect x="713.5" y="213.1" width="3" height="11.0" fill="#26a09a"/>
<path d="M717.4 208.5V226.7" stroke="#e64a46" stroke-width="1.1"/>
<rect x="715.9" y="213.1" width="3" height="9.6" fill="#e64a46"/>
<path d="M719.9 206.5V225.0" stroke="#26a09a" stroke-width="1.1"/>
<rect x="718.4" y="212.7" width="3" height="10.1" fill="#26a09a"/>
<path d="M722.3 206.3V225.4" stroke="#e64a46" stroke-width="1.1"/>
<rect x="720.8" y="212.7" width="3" height="9.7" fill="#e64a46"/>
<path d="M724.8 198.2V224.1" stroke="#26a09a" stroke-width="1.1"/>
<rect x="723.3" y="200.5" width="3" height="21.9" fill="#26a09a"/>
<path d="M727.2 193.3V201.4" stroke="#26a09a" stroke-width="1.1"/>
<rect x="725.7" y="197.5" width="3" height="3.0" fill="#26a09a"/>
<path d="M729.6 196.6V205.4" stroke="#e64a46" stroke-width="1.1"/>
<rect x="728.1" y="197.5" width="3" height="3.5" fill="#e64a46"/>
<path d="M732.1 198.0V212.8" stroke="#e64a46" stroke-width="1.1"/>
<rect x="730.6" y="200.9" width="3" height="9.0" fill="#e64a46"/>
<path d="M734.5 197.8V214.7" stroke="#26a09a" stroke-width="1.1"/>
<rect x="733.0" y="201.7" width="3" height="8.2" fill="#26a09a"/>
<path d="M736.9 196.9V211.0" stroke="#e64a46" stroke-width="1.1"/>
<rect x="735.4" y="201.7" width="3" height="1.2" fill="#e64a46"/>
<path d="M739.4 189.9V204.4" stroke="#26a09a" stroke-width="1.1"/>
<rect x="737.9" y="191.1" width="3" height="11.8" fill="#26a09a"/>
<path d="M741.8 188.1V207.0" stroke="#e64a46" stroke-width="1.1"/>
<rect x="740.3" y="191.1" width="3" height="6.1" fill="#e64a46"/>
<path d="M744.2 176.1V201.4" stroke="#26a09a" stroke-width="1.1"/>
<rect x="742.7" y="177.6" width="3" height="19.6" fill="#26a09a"/>
<path d="M746.7 175.4V187.1" stroke="#e64a46" stroke-width="1.1"/>
<rect x="745.2" y="177.6" width="3" height="6.1" fill="#e64a46"/>
<path d="M749.1 167.4V187.4" stroke="#26a09a" stroke-width="1.1"/>
<rect x="747.6" y="168.9" width="3" height="14.8" fill="#26a09a"/>
<path d="M751.6 166.9V174.1" stroke="#e64a46" stroke-width="1.1"/>
<rect x="750.1" y="168.9" width="3" height="1.0" fill="#e64a46"/>
<path d="M754.0 166.0V173.1" stroke="#26a09a" stroke-width="1.1"/>
<rect x="752.5" y="168.0" width="3" height="1.5" fill="#26a09a"/>
<path d="M756.4 165.3V169.6" stroke="#e64a46" stroke-width="1.1"/>
<rect x="754.9" y="168.0" width="3" height="1.0" fill="#e64a46"/>
<path d="M758.9 159.1V173.1" stroke="#26a09a" stroke-width="1.1"/>
<rect x="757.4" y="160.6" width="3" height="8.2" fill="#26a09a"/>
<path d="M761.3 158.9V171.8" stroke="#e64a46" stroke-width="1.1"/>
<rect x="759.8" y="160.6" width="3" height="6.6" fill="#e64a46"/>
<path d="M763.7 163.5V171.7" stroke="#e64a46" stroke-width="1.1"/>
<rect x="762.2" y="167.2" width="3" height="3.7" fill="#e64a46"/>
<path d="M766.2 163.1V178.3" stroke="#26a09a" stroke-width="1.1"/>
<rect x="764.7" y="164.9" width="3" height="6.0" fill="#26a09a"/>
<path d="M768.6 163.0V176.3" stroke="#e64a46" stroke-width="1.1"/>
<rect x="767.1" y="164.9" width="3" height="8.6" fill="#e64a46"/>
<path d="M771.1 171.4V186.2" stroke="#e64a46" stroke-width="1.1"/>
<rect x="769.6" y="173.5" width="3" height="9.1" fill="#e64a46"/>
<path d="M773.5 177.5V184.7" stroke="#26a09a" stroke-width="1.1"/>
<rect x="772.0" y="179.6" width="3" height="3.0" fill="#26a09a"/>
<path d="M775.9 176.0V202.9" stroke="#e64a46" stroke-width="1.1"/>
<rect x="774.4" y="179.6" width="3" height="21.0" fill="#e64a46"/>
<path d="M778.4 182.0V204.7" stroke="#26a09a" stroke-width="1.1"/>
<rect x="776.9" y="186.5" width="3" height="14.0" fill="#26a09a"/>
<path d="M780.8 185.2V208.6" stroke="#e64a46" stroke-width="1.1"/>
<rect x="779.3" y="186.7" width="3" height="4.7" fill="#e64a46"/>
<path d="M783.2 191.9V213.2" stroke="#e64a46" stroke-width="1.1"/>
<rect x="781.7" y="193.4" width="3" height="13.5" fill="#e64a46"/>
<path d="M785.7 204.7V208.0" stroke="#26a09a" stroke-width="1.1"/>
<rect x="784.2" y="205.8" width="3" height="1.1" fill="#26a09a"/>
<path d="M788.1 197.2V211.4" stroke="#26a09a" stroke-width="1.1"/>
<rect x="786.6" y="199.8" width="3" height="5.9" fill="#26a09a"/>
<path d="M790.6 193.9V201.8" stroke="#26a09a" stroke-width="1.1"/>
<rect x="789.1" y="194.8" width="3" height="5.1" fill="#26a09a"/>
<path d="M793.0 190.0V195.7" stroke="#26a09a" stroke-width="1.1"/>
<rect x="791.5" y="191.5" width="3" height="3.2" fill="#26a09a"/>
<path d="M795.4 179.9V192.6" stroke="#26a09a" stroke-width="1.1"/>
<rect x="793.9" y="181.4" width="3" height="10.1" fill="#26a09a"/>
<path d="M797.9 170.5V185.2" stroke="#26a09a" stroke-width="1.1"/>
<rect x="796.4" y="174.8" width="3" height="6.5" fill="#26a09a"/>
<path d="M800.3 161.8V178.5" stroke="#26a09a" stroke-width="1.1"/>
<rect x="798.8" y="163.3" width="3" height="11.5" fill="#26a09a"/>
<path d="M802.7 153.8V166.9" stroke="#26a09a" stroke-width="1.1"/>
<rect x="801.2" y="155.3" width="3" height="8.0" fill="#26a09a"/>
<path d="M805.2 150.5V164.5" stroke="#e64a46" stroke-width="1.1"/>
<rect x="803.7" y="155.3" width="3" height="4.8" fill="#e64a46"/>
<path d="M807.6 140.1V168.8" stroke="#26a09a" stroke-width="1.1"/>
<rect x="806.1" y="141.6" width="3" height="18.6" fill="#26a09a"/>
<path d="M810.0 138.8V153.5" stroke="#e64a46" stroke-width="1.1"/>
<rect x="808.5" y="141.6" width="3" height="7.5" fill="#e64a46"/>
<path d="M812.5 129.2V155.7" stroke="#26a09a" stroke-width="1.1"/>
<rect x="811.0" y="130.7" width="3" height="18.3" fill="#26a09a"/>
<path d="M814.9 124.9V161.8" stroke="#e64a46" stroke-width="1.1"/>
<rect x="813.4" y="130.7" width="3" height="26.4" fill="#e64a46"/>
<path d="M817.4 144.3V161.5" stroke="#26a09a" stroke-width="1.1"/>
<rect x="815.9" y="145.1" width="3" height="12.1" fill="#26a09a"/>
<path d="M819.8 138.6V163.5" stroke="#e64a46" stroke-width="1.1"/>
<rect x="818.3" y="145.1" width="3" height="16.2" fill="#e64a46"/>
<path d="M822.2 136.5V165.4" stroke="#26a09a" stroke-width="1.1"/>
<rect x="820.7" y="138.3" width="3" height="23.0" fill="#26a09a"/>
<path d="M824.7 136.8V152.4" stroke="#e64a46" stroke-width="1.1"/>
<rect x="823.2" y="138.3" width="3" height="12.4" fill="#e64a46"/>
<path d="M827.1 133.9V153.4" stroke="#26a09a" stroke-width="1.1"/>
<rect x="825.6" y="139.6" width="3" height="11.1" fill="#26a09a"/>
<path d="M829.5 136.8V166.0" stroke="#e64a46" stroke-width="1.1"/>
<rect x="828.0" y="139.6" width="3" height="15.3" fill="#e64a46"/>
<path d="M832.0 134.8V160.4" stroke="#26a09a" stroke-width="1.1"/>
<rect x="830.5" y="138.9" width="3" height="16.0" fill="#26a09a"/>
<path d="M834.4 124.4V142.8" stroke="#26a09a" stroke-width="1.1"/>
<rect x="832.9" y="131.0" width="3" height="7.9" fill="#26a09a"/>
<path d="M836.9 120.6V132.5" stroke="#26a09a" stroke-width="1.1"/>
<rect x="835.4" y="121.9" width="3" height="9.2" fill="#26a09a"/>
<path d="M839.3 121.4V148.3" stroke="#e64a46" stroke-width="1.1"/>
<rect x="837.8" y="122.9" width="3" height="21.7" fill="#e64a46"/>
<path d="M841.7 142.6V148.3" stroke="#26a09a" stroke-width="1.1"/>
<rect x="840.2" y="144.0" width="3" height="1.0" fill="#26a09a"/>
<path d="M844.2 142.9V186.5" stroke="#e64a46" stroke-width="1.1"/>
<rect x="842.7" y="144.0" width="3" height="40.0" fill="#e64a46"/>
<path d="M846.6 178.4V203.0" stroke="#26a09a" stroke-width="1.1"/>
<rect x="845.1" y="179.1" width="3" height="4.9" fill="#26a09a"/>
<path d="M849.0 176.3V196.9" stroke="#e64a46" stroke-width="1.1"/>
<rect x="847.5" y="179.1" width="3" height="16.1" fill="#e64a46"/>
<path d="M851.5 174.0V199.2" stroke="#26a09a" stroke-width="1.1"/>
<rect x="850.0" y="181.8" width="3" height="13.5" fill="#26a09a"/>
<path d="M853.9 180.5V187.0" stroke="#e64a46" stroke-width="1.1"/>
<rect x="852.4" y="181.8" width="3" height="2.7" fill="#e64a46"/>
<path d="M856.3 181.7V202.5" stroke="#e64a46" stroke-width="1.1"/>
<rect x="854.8" y="184.5" width="3" height="10.2" fill="#e64a46"/>
<path d="M858.8 186.1V197.2" stroke="#26a09a" stroke-width="1.1"/>
<rect x="857.3" y="189.3" width="3" height="5.4" fill="#26a09a"/>
<path d="M861.2 184.8V219.0" stroke="#e64a46" stroke-width="1.1"/>
<rect x="859.7" y="189.3" width="3" height="9.5" fill="#e64a46"/>
<path d="M863.7 194.8V200.1" stroke="#26a09a" stroke-width="1.1"/>
<rect x="862.2" y="197.2" width="3" height="1.6" fill="#26a09a"/>
<path d="M866.1 176.1V198.0" stroke="#26a09a" stroke-width="1.1"/>
<rect x="864.6" y="177.7" width="3" height="19.5" fill="#26a09a"/>
<path d="M868.5 176.5V190.4" stroke="#e64a46" stroke-width="1.1"/>
<rect x="867.0" y="177.7" width="3" height="11.2" fill="#e64a46"/>
<path d="M871.0 159.0V191.2" stroke="#26a09a" stroke-width="1.1"/>
<rect x="869.5" y="160.5" width="3" height="28.3" fill="#26a09a"/>
<path d="M873.4 158.7V176.5" stroke="#e64a46" stroke-width="1.1"/>
<rect x="871.9" y="160.5" width="3" height="13.0" fill="#e64a46"/>
<path d="M875.8 152.6V174.3" stroke="#26a09a" stroke-width="1.1"/>
<rect x="874.3" y="154.1" width="3" height="19.4" fill="#26a09a"/>
<path d="M878.3 149.9V156.5" stroke="#26a09a" stroke-width="1.1"/>
<rect x="876.8" y="151.4" width="3" height="2.7" fill="#26a09a"/>
<path d="M880.7 147.4V166.6" stroke="#e64a46" stroke-width="1.1"/>
<rect x="879.2" y="151.4" width="3" height="7.5" fill="#e64a46"/>
<path d="M883.2 153.9V173.8" stroke="#e64a46" stroke-width="1.1"/>
<rect x="881.7" y="158.9" width="3" height="9.4" fill="#e64a46"/>
<path d="M885.6 152.6V171.4" stroke="#26a09a" stroke-width="1.1"/>
<rect x="884.1" y="157.4" width="3" height="10.9" fill="#26a09a"/>
<path d="M888.0 145.0V165.5" stroke="#e64a46" stroke-width="1.1"/>
<rect x="886.5" y="157.4" width="3" height="4.2" fill="#e64a46"/>
<path d="M890.5 159.8V181.7" stroke="#e64a46" stroke-width="1.1"/>
<rect x="889.0" y="161.6" width="3" height="18.5" fill="#e64a46"/>
<path d="M892.9 179.0V199.0" stroke="#e64a46" stroke-width="1.1"/>
<rect x="891.4" y="180.1" width="3" height="6.2" fill="#e64a46"/>
<path d="M895.3 175.1V188.7" stroke="#26a09a" stroke-width="1.1"/>
<rect x="893.8" y="178.1" width="3" height="8.2" fill="#26a09a"/>
<path d="M897.8 171.0V190.8" stroke="#e64a46" stroke-width="1.1"/>
<rect x="896.3" y="178.1" width="3" height="6.4" fill="#e64a46"/>
<path d="M900.2 161.3V187.7" stroke="#26a09a" stroke-width="1.1"/>
<rect x="898.7" y="163.9" width="3" height="20.7" fill="#26a09a"/>
<path d="M902.7 154.7V171.7" stroke="#26a09a" stroke-width="1.1"/>
<rect x="901.2" y="161.7" width="3" height="2.2" fill="#26a09a"/>
<path d="M905.1 159.5V165.0" stroke="#e64a46" stroke-width="1.1"/>
<rect x="903.6" y="161.7" width="3" height="1.8" fill="#e64a46"/>
<path d="M907.5 162.2V184.9" stroke="#e64a46" stroke-width="1.1"/>
<rect x="906.0" y="163.5" width="3" height="20.7" fill="#e64a46"/>
<path d="M910.0 175.9V196.0" stroke="#26a09a" stroke-width="1.1"/>
<rect x="908.5" y="176.7" width="3" height="7.4" fill="#26a09a"/>
<path d="M912.4 174.2V190.7" stroke="#e64a46" stroke-width="1.1"/>
<rect x="910.9" y="176.7" width="3" height="12.1" fill="#e64a46"/>
<path d="M914.8 183.4V194.1" stroke="#e64a46" stroke-width="1.1"/>
<rect x="913.3" y="188.9" width="3" height="4.1" fill="#e64a46"/>
<path d="M917.3 181.1V195.8" stroke="#26a09a" stroke-width="1.1"/>
<rect x="915.8" y="184.6" width="3" height="8.3" fill="#26a09a"/>
<path d="M919.7 180.8V210.0" stroke="#e64a46" stroke-width="1.1"/>
<rect x="918.2" y="184.6" width="3" height="13.1" fill="#e64a46"/>
<path d="M922.1 181.5V201.4" stroke="#26a09a" stroke-width="1.1"/>
<rect x="920.6" y="182.5" width="3" height="15.1" fill="#26a09a"/>
<path d="M924.6 179.3V204.2" stroke="#e64a46" stroke-width="1.1"/>
<rect x="923.1" y="182.5" width="3" height="17.6" fill="#e64a46"/>
<path d="M927.0 186.2V202.7" stroke="#26a09a" stroke-width="1.1"/>
<rect x="925.5" y="189.8" width="3" height="10.4" fill="#26a09a"/>
<path d="M929.5 184.1V235.1" stroke="#e64a46" stroke-width="1.1"/>
<rect x="928.0" y="189.8" width="3" height="43.4" fill="#e64a46"/>
<path d="M931.9 229.0V253.5" stroke="#e64a46" stroke-width="1.1"/>
<rect x="930.4" y="233.3" width="3" height="9.7" fill="#e64a46"/>
<path d="M934.3 234.5V246.0" stroke="#26a09a" stroke-width="1.1"/>
<rect x="932.8" y="238.3" width="3" height="4.6" fill="#26a09a"/>
<path d="M936.8 232.4V242.3" stroke="#26a09a" stroke-width="1.1"/>
<rect x="935.3" y="236.7" width="3" height="1.6" fill="#26a09a"/>
<path d="M939.2 235.0V245.0" stroke="#e64a46" stroke-width="1.1"/>
<rect x="937.7" y="236.7" width="3" height="4.1" fill="#e64a46"/>
<path d="M941.6 228.6V241.9" stroke="#26a09a" stroke-width="1.1"/>
<rect x="940.1" y="231.3" width="3" height="9.4" fill="#26a09a"/>
<path d="M944.1 225.3V251.1" stroke="#e64a46" stroke-width="1.1"/>
<rect x="942.6" y="231.3" width="3" height="17.8" fill="#e64a46"/>
<path d="M946.5 217.6V250.3" stroke="#26a09a" stroke-width="1.1"/>
<rect x="945.0" y="222.2" width="3" height="26.9" fill="#26a09a"/>
<path d="M949.0 228.6V261.6" stroke="#e64a46" stroke-width="1.1"/>
<rect x="947.5" y="229.0" width="3" height="32.3" fill="#e64a46"/>
</g>
<path d="M2.3 510.0 L4.8 509.3 L7.3 508.6 L9.8 508.0 L12.3 507.3 L14.8 506.8 L17.3 506.6 L19.8 506.7 L22.3 507.1 L24.8 507.5 L27.3 507.9 L29.8 508.3 L32.3 508.6 L34.8 508.9 L37.3 509.1 L39.8 509.4 L42.3 509.7 L44.8 509.9 L47.3 510.1 L49.8 510.2 L52.3 510.2 L54.8 510.3 L57.3 510.4 L59.8 510.5 L62.3 510.6 L64.8 510.7 L67.3 510.8 L69.8 510.8 L72.4 510.8 L74.9 510.8 L77.4 510.5 L79.9 510.2 L82.4 509.8 L84.9 509.5 L87.4 509.1 L89.9 508.7 L92.4 508.4 L94.9 508.0 L97.4 507.6 L99.9 507.3 L102.4 507.0 L104.9 506.7 L107.4 506.5 L109.9 506.3 L112.4 506.1 L114.9 505.9 L117.4 505.7 L119.9 505.5 L122.4 505.3 L124.9 505.1 L127.4 504.9 L129.9 504.7 L132.4 504.5 L134.9 504.4 L137.4 504.2 L139.9 504.0 L142.4 503.8 L144.9 503.6 L147.4 503.4 L149.9 503.2 L152.4 503.0 L154.9 502.7 L157.4 502.3 L159.9 501.8 L162.4 501.4 L164.9 500.9 L167.4 500.4 L169.9 500.0 L172.4 499.5 L174.9 499.0 L177.4 498.6 L179.9 498.1 L182.4 497.5 L184.9 496.9 L187.4 496.2 L189.9 495.6 L192.4 494.9 L194.9 494.3 L197.4 493.7 L199.9 493.0 L202.4 492.3 L205.0 491.7 L207.5 491.0 L210.0 490.3 L212.5 489.7 L215.0 489.0 L217.5 488.3 L220.0 487.7 L222.5 487.0 L225.0 486.3 L227.5 485.7 L230.0 485.0 L232.5 484.3 L235.0 483.7 L237.5 483.0 L240.0 482.3 L242.5 481.7 L245.0 481.0 L247.5 480.3 L250.0 479.7 L252.5 479.0 L255.0 478.3 L257.5 477.7 L260.0 476.9 L262.5 476.2 L265.0 475.4 L267.5 474.6 L270.0 473.7 L272.5 472.9 L275.0 472.1 L277.5 471.3 L280.0 470.5 L282.5 469.6 L285.0 468.6 L287.5 467.6 L290.0 466.6 L292.5 465.6 L295.0 464.6 L297.5 463.5 L300.0 462.5 L302.5 461.5 L305.0 460.4 L307.5 459.4 L310.0 458.4 L312.5 457.5 L315.0 456.5 L317.5 455.6 L320.0 454.6 L322.5 453.7 L325.0 452.7 L327.5 451.7 L330.0 450.7 L332.5 449.7 L335.0 448.7 L337.5 447.7 L340.1 446.7 L342.6 445.6 L345.1 444.6 L347.6 443.6 L350.1 442.5 L352.6 441.5 L355.1 440.5 L357.6 439.4 L360.1 438.3 L362.6 437.2 L365.1 436.1 L367.6 434.9 L370.1 433.8 L372.6 432.7 L375.1 431.5 L377.6 430.4 L380.1 429.3 L382.6 428.2 L385.1 427.2 L387.6 426.1 L390.1 425.1 L392.6 424.1 L395.1 423.0 L397.6 422.0 L400.1 421.0 L402.6 420.1 L405.1 419.1 L407.6 418.2 L410.1 417.3 L412.6 416.4 L415.1 415.5 L417.6 414.5 L420.1 413.6 L422.6 412.7 L425.1 411.8 L427.6 410.9 L430.1 410.0 L432.6 409.1 L435.1 408.3 L437.6 407.4 L440.1 406.5 L442.6 405.7 L445.1 404.8 L447.6 404.0 L450.1 403.1 L452.6 402.3 L455.1 401.4 L457.6 400.5 L460.1 399.2 L462.6 397.6 L465.1 395.7 L467.6 393.6 L470.1 391.5 L472.6 389.3 L475.2 387.2 L477.7 385.1 L480.2 383.3 L482.7 381.6 L485.2 380.1 L487.7 378.7 L490.2 377.3 L492.7 375.9 L495.2 374.5 L497.7 373.2 L500.2 371.8 L502.7 370.6 L505.2 369.4 L507.7 368.2 L510.2 367.1 L512.7 366.0 L515.2 364.8 L517.7 363.7 L520.2 362.6 L522.7 361.5 L525.2 360.4 L527.7 359.4 L530.2 358.5 L532.7 357.8 L535.2 357.2 L537.7 356.5 L540.2 355.9 L542.7 355.3 L545.2 354.7 L547.7 354.0 L550.2 353.4 L552.7 352.7 L555.2 351.9 L557.7 351.1 L560.2 350.3 L562.7 349.5 L565.2 348.7 L567.7 347.9 L570.2 347.3 L572.7 346.8 L575.2 346.6 L577.7 346.4 L580.2 346.2 L582.7 346.1 L585.2 345.9 L587.7 345.7 L590.2 345.6 L592.7 345.4 L595.2 345.3 L597.7 345.2 L600.2 345.0 L602.7 344.9 L605.2 344.7 L607.7 344.6 L610.2 344.4 L612.8 344.3 L615.3 344.1 L617.8 343.9 L620.3 343.6 L622.8 343.2 L625.3 342.9 L627.8 342.5 L630.3 342.2 L632.8 341.8 L635.3 341.4 L637.8 341.1 L640.3 340.7 L642.8 340.3 L645.3 339.8 L647.8 339.3 L650.3 338.7 L652.8 338.0 L655.3 337.4 L657.8 336.8 L660.3 336.2 L662.8 335.5 L665.3 334.9 L667.8 334.3 L670.3 333.7 L672.8 333.1 L675.3 332.6 L677.8 332.2 L680.3 331.8 L682.8 331.4 L685.3 331.0 L687.8 330.6 L690.3 330.2 L692.8 329.8 L695.3 329.3 L697.8 328.6 L700.3 327.8 L702.8 326.8 L705.3 325.7 L707.8 324.6 L710.3 323.6 L712.8 322.5 L715.3 321.3 L717.8 320.1 L720.3 318.9 L722.8 317.7 L725.3 316.4 L727.8 315.2 L730.3 314.0 L732.8 312.7 L735.3 311.5 L737.8 310.3 L740.3 309.0 L742.8 307.8 L745.4 306.5 L747.9 305.3 L750.4 304.0 L752.9 302.8 L755.4 301.5 L757.9 300.3 L760.4 299.1 L762.9 297.9 L765.4 296.8 L767.9 295.7 L770.4 294.6 L772.9 293.5 L775.4 292.4 L777.9 291.3 L780.4 290.1 L782.9 288.8 L785.4 287.4 L787.9 285.8 L790.4 284.2 L792.9 282.6 L795.4 281.0 L797.9 279.4 L800.4 277.8 L802.9 276.2 L805.4 274.8 L807.9 273.6 L810.4 272.5 L812.9 271.5 L815.4 270.5 L817.9 269.5 L820.4 268.5 L822.9 267.5 L825.4 266.5 L827.9 265.6 L830.4 264.6 L832.9 263.6 L835.4 262.7 L837.9 261.8 L840.4 260.9 L842.9 260.1 L845.4 259.2 L847.9 258.3 L850.4 257.4 L852.9 256.5 L855.4 255.6 L857.9 254.7 L860.4 253.9 L862.9 253.0 L865.4 252.1 L867.9 251.3 L870.4 250.4 L872.9 249.6 L875.4 248.7 L877.9 247.9 L880.4 247.1 L883.0 246.4 L885.5 245.6 L888.0 244.9 L890.5 244.2 L893.0 243.4 L895.5 242.7 L898.0 242.1 L900.5 241.4 L903.0 240.9 L905.5 240.5 L908.0 240.1 L910.5 239.7 L913.0 239.2 L915.5 238.8 L918.0 238.5 L920.5 238.2 L923.0 237.9 L925.5 237.7 L928.0 237.5 L930.5 237.3 L933.0 237.2 L935.5 237.2 L938.0 237.3 L940.5 237.4 L943.0 237.5 L945.5 237.7 L948.0 237.8" fill="none" stroke="#ee16d8" stroke-width="3" stroke-linejoin="round"/>
<path d="M2.3 494.0 L4.8 493.2 L7.3 492.5 L9.8 491.7 L12.3 491.0 L14.8 490.4 L17.3 490.3 L19.8 490.6 L22.3 491.3 L24.8 492.1 L27.3 493.1 L29.8 494.2 L32.3 495.3 L34.8 496.4 L37.3 497.5 L39.8 498.4 L42.3 499.0 L44.8 499.5 L47.3 499.9 L49.8 500.2 L52.3 500.5 L54.8 500.9 L57.3 501.3 L59.8 501.8 L62.3 502.4 L64.8 502.9 L67.3 503.4 L69.8 503.9 L72.3 504.3 L74.8 504.4 L77.3 504.1 L79.8 503.6 L82.3 503.0 L84.8 502.3 L87.3 501.7 L89.8 501.1 L92.3 500.5 L94.8 499.9 L97.3 499.4 L99.8 498.8 L102.3 498.3 L104.8 497.8 L107.3 497.4 L109.8 497.3 L112.3 497.3 L114.8 497.4 L117.3 497.5 L119.8 497.7 L122.3 497.8 L124.8 497.8 L127.3 497.7 L129.8 497.5 L132.3 497.2 L134.8 496.9 L137.3 496.5 L139.8 496.2 L142.3 495.8 L144.8 495.3 L147.3 494.7 L149.8 493.9 L152.3 493.2 L154.8 492.4 L157.3 491.6 L159.8 490.9 L162.3 490.2 L164.8 489.5 L167.3 488.9 L169.8 488.4 L172.3 487.8 L174.8 487.3 L177.3 486.7 L179.8 486.1 L182.3 485.4 L184.8 484.6 L187.3 483.9 L189.8 483.1 L192.3 482.3 L194.8 481.5 L197.3 480.6 L199.8 479.8 L202.3 478.8 L204.8 477.9 L207.3 476.9 L209.8 475.9 L212.3 474.9 L214.8 473.9 L217.3 472.9 L219.8 471.9 L222.3 470.8 L224.8 469.8 L227.3 468.7 L229.8 467.5 L232.3 466.4 L234.8 465.2 L237.3 464.0 L239.8 462.8 L242.3 461.6 L244.8 460.4 L247.3 459.2 L249.8 458.0 L252.3 456.9 L254.8 455.8 L257.3 454.8 L259.8 453.9 L262.3 452.9 L264.8 452.0 L267.3 451.1 L269.8 450.1 L272.3 449.2 L274.8 448.3 L277.3 447.4 L279.8 446.4 L282.3 445.4 L284.8 444.3 L287.3 443.0 L289.8 441.6 L292.3 440.1 L294.8 438.6 L297.3 437.1 L299.8 435.6 L302.3 434.0 L304.8 432.5 L307.3 431.0 L309.8 429.5 L312.3 427.9 L314.8 426.3 L317.3 424.8 L319.8 423.2 L322.3 421.6 L324.8 420.0 L327.3 418.4 L329.8 416.9 L332.3 415.3 L334.8 413.7 L337.3 412.1 L339.8 410.5 L342.3 409.0 L344.8 407.4 L347.3 405.9 L349.8 404.4 L352.3 402.9 L354.8 401.5 L357.3 400.0 L359.8 398.5 L362.3 397.1 L364.8 395.6 L367.3 394.2 L369.8 392.8 L372.3 391.4 L374.8 390.1 L377.3 388.8 L379.8 387.5 L382.3 386.2 L384.8 385.0 L387.3 383.7 L389.8 382.6 L392.3 381.6 L394.8 381.1 L397.3 380.7 L399.8 380.3 L402.3 379.7 L404.8 379.0 L407.3 378.2 L409.8 377.4 L412.3 376.5 L414.8 375.7 L417.3 374.9 L419.8 374.1 L422.3 373.4 L424.8 372.7 L427.3 372.0 L429.8 371.3 L432.3 370.6 L434.8 369.9 L437.3 369.2 L439.8 368.5 L442.3 367.9 L444.8 367.2 L447.3 366.5 L449.8 365.7 L452.3 364.6 L454.8 363.3 L457.3 361.6 L459.8 359.8 L462.3 357.9 L464.8 356.0 L467.3 354.1 L469.8 352.2 L472.3 350.3 L474.8 348.4 L477.3 346.3 L479.8 344.0 L482.3 341.6 L484.8 339.1 L487.3 336.7 L489.8 334.2 L492.3 331.7 L494.8 329.3 L497.3 326.9 L499.8 324.5 L502.3 322.4 L504.8 320.4 L507.3 318.6 L509.8 316.8 L512.3 315.0 L514.8 313.2 L517.3 311.4 L519.8 309.7 L522.3 308.3 L524.8 307.2 L527.3 306.5 L529.8 305.8 L532.3 305.3 L534.8 304.9 L537.3 304.7 L539.8 304.6 L542.3 304.6 L544.8 304.6 L547.3 304.6 L549.8 304.5 L552.3 304.3 L554.8 304.0 L557.3 303.4 L559.8 302.8 L562.3 302.2 L564.8 301.6 L567.3 301.0 L569.8 300.3 L572.3 299.8 L574.8 299.3 L577.3 299.2 L579.8 299.4 L582.3 299.8 L584.8 300.3 L587.3 300.8 L589.8 301.4 L592.3 302.0 L594.8 302.6 L597.3 303.2 L599.8 303.8 L602.3 304.4 L604.8 305.0 L607.3 305.4 L609.8 305.7 L612.3 305.9 L614.8 306.1 L617.3 306.3 L619.8 306.5 L622.3 306.7 L624.8 306.9 L627.3 307.1 L629.8 307.3 L632.3 307.4 L634.8 307.6 L637.3 307.8 L639.8 307.9 L642.3 308.0 L644.8 308.0 L647.3 307.7 L649.8 307.3 L652.3 306.7 L654.8 306.2 L657.3 305.7 L659.8 305.1 L662.3 304.6 L664.8 304.1 L667.3 303.6 L669.8 303.1 L672.3 302.7 L674.8 302.2 L677.3 301.8 L679.8 301.4 L682.3 300.9 L684.8 300.5 L687.3 300.0 L689.8 299.6 L692.3 299.0 L694.8 298.2 L697.3 297.1 L699.8 295.7 L702.3 294.2 L704.8 292.7 L707.3 291.2 L709.8 289.7 L712.3 288.1 L714.8 286.5 L717.3 284.9 L719.8 283.3 L722.3 281.7 L724.8 280.1 L727.3 278.4 L729.8 276.8 L732.3 275.2 L734.8 273.5 L737.3 271.9 L739.8 270.2 L742.3 268.6 L744.8 266.9 L747.3 265.3 L749.8 263.6 L752.3 261.9 L754.8 260.2 L757.3 258.5 L759.8 256.9 L762.3 255.3 L764.8 253.8 L767.3 252.3 L769.8 250.9 L772.3 249.4 L774.8 248.0 L777.3 246.5 L779.8 245.2 L782.3 243.8 L784.8 242.5 L787.3 241.3 L789.8 240.0 L792.3 238.7 L794.8 237.4 L797.3 236.1 L799.8 234.9 L802.3 233.5 L804.8 232.1 L807.3 230.6 L809.8 228.9 L812.3 227.1 L814.8 225.4 L817.3 223.6 L819.8 221.9 L822.3 220.2 L824.8 218.7 L827.3 217.3 L829.8 216.0 L832.3 214.8 L834.8 213.6 L837.3 212.4 L839.8 211.2 L842.3 210.4 L844.8 209.8 L847.3 209.4 L849.8 209.1 L852.3 208.8 L854.8 208.5 L857.3 208.2 L859.8 207.9 L862.3 207.5 L864.8 207.1 L867.3 206.6 L869.8 205.8 L872.3 204.8 L874.8 203.8 L877.3 202.8 L879.8 201.9 L882.3 201.1 L884.8 200.4 L887.3 199.7 L889.8 199.0 L892.3 198.4 L894.8 197.8 L897.3 197.4 L899.8 197.0 L902.3 196.6 L904.8 196.3 L907.3 196.1 L909.8 195.9 L912.3 196.0 L914.8 196.1 L917.3 196.3 L919.8 196.5 L922.3 196.7 L924.8 196.9 L927.3 197.4 L929.8 198.0 L932.3 198.8 L934.8 199.6 L937.3 200.5 L939.8 201.4 L942.3 202.5 L944.8 203.8 L947.3 205.3 L949.8 206.8" fill="none" stroke="#3b6c96" stroke-width="3" stroke-linejoin="round"/>
<rect x="719.5" y="213.5" width="227.0" height="26.5" fill="rgba(214,228,240,0.68)" stroke="#5d6b78" stroke-width="1"/><text x="725.0" y="233.7" textLength="216.5" lengthAdjust="spacingAndGlyphs" class="lb" font-size="20" fill="#0000d8">12000 Kritik Direnç</text>
<path d="M2.3 475.0 L4.8 474.1 L7.3 473.3 L9.8 472.5 L12.3 471.7 L14.8 471.2 L17.3 471.4 L19.8 472.6 L22.3 474.8 L24.8 477.5 L27.3 480.5 L29.8 483.1 L32.3 485.4 L34.8 487.5 L37.3 489.4 L39.8 491.0 L42.3 492.4 L44.8 493.6 L47.3 494.6 L49.8 495.6 L52.3 496.5 L54.8 497.5 L57.3 498.4 L59.8 499.2 L62.3 500.0 L64.8 500.9 L67.3 501.7 L69.8 502.4 L72.3 503.0 L74.8 503.2 L77.3 502.8 L79.8 502.1 L82.3 501.3 L84.8 500.4 L87.3 499.5 L89.8 498.5 L92.3 497.6 L94.8 496.6 L97.3 495.7 L99.8 494.9 L102.3 494.2 L104.8 493.8 L107.3 493.5 L109.8 493.3 L112.3 493.1 L114.8 493.0 L117.3 492.9 L119.8 493.0 L122.3 493.2 L124.8 493.5 L127.3 493.7 L129.8 494.0 L132.3 494.1 L134.8 494.1 L137.3 493.8 L139.8 493.3 L142.3 492.7 L144.8 492.1 L147.3 491.5 L149.8 490.8 L152.3 490.0 L154.8 489.0 L157.3 487.8 L159.8 486.4 L162.3 485.0 L164.8 483.6 L167.3 482.2 L169.8 480.9 L172.3 479.7 L174.8 478.6 L177.3 477.6 L179.8 476.7 L182.3 475.7 L184.8 474.8 L187.3 473.7 L189.8 472.5 L192.3 471.3 L194.8 470.0 L197.3 468.7 L199.8 467.2 L202.3 465.4 L204.8 463.5 L207.3 461.5 L209.8 459.5 L212.3 457.7 L214.8 456.2 L217.3 455.0 L219.8 454.1 L222.3 453.2 L224.8 452.4 L227.3 451.6 L229.8 450.7 L232.3 449.8 L234.8 448.7 L237.3 447.4 L239.8 446.0 L242.3 444.4 L244.8 442.8 L247.3 441.2 L249.8 439.7 L252.3 438.2 L254.8 436.8 L257.3 435.6 L259.8 434.4 L262.3 433.3 L264.8 432.1 L267.3 431.0 L269.8 429.9 L272.3 428.7 L274.8 427.6 L277.3 426.5 L279.8 425.3 L282.3 424.1 L284.8 422.7 L287.3 421.0 L289.8 419.2 L292.3 417.2 L294.8 415.2 L297.3 413.3 L299.8 411.3 L302.3 409.3 L304.8 407.3 L307.3 405.2 L309.8 403.0 L312.3 400.7 L314.8 398.2 L317.3 395.7 L319.8 393.2 L322.3 390.7 L324.8 388.3 L327.3 386.1 L329.8 384.2 L332.3 382.6 L334.8 381.1 L337.3 379.6 L339.8 378.2 L342.3 376.7 L344.8 375.3 L347.3 373.9 L349.8 372.5 L352.3 371.1 L354.8 369.8 L357.3 368.4 L359.8 367.1 L362.3 365.7 L364.8 364.4 L367.3 363.0 L369.8 361.6 L372.3 360.2 L374.8 358.7 L377.3 357.2 L379.8 355.7 L382.3 354.2 L384.8 352.7 L387.3 351.4 L389.8 350.3 L392.3 349.7 L394.8 349.3 L397.3 349.1 L399.8 348.8 L402.3 348.3 L404.8 347.7 L407.3 347.3 L409.8 347.0 L412.3 347.0 L414.8 347.0 L417.3 347.1 L419.8 347.1 L422.3 347.2 L424.8 347.2 L427.3 347.2 L429.8 346.9 L432.3 346.3 L434.8 345.6 L437.3 344.8 L439.8 344.1 L442.3 343.3 L444.8 342.5 L447.3 341.7 L449.8 340.8 L452.3 339.3 L454.8 337.2 L457.3 334.5 L459.8 331.3 L462.3 327.8 L464.8 324.1 L467.3 320.2 L469.8 316.2 L472.3 312.2 L474.8 308.3 L477.3 304.7 L479.8 301.4 L482.3 298.4 L484.8 295.4 L487.3 292.5 L489.8 289.7 L492.3 287.2 L494.8 285.1 L497.3 283.3 L499.8 281.6 L502.3 279.9 L504.8 278.3 L507.3 276.7 L509.8 275.1 L512.3 273.7 L514.8 272.4 L517.3 271.1 L519.8 269.9 L522.3 268.8 L524.8 268.1 L527.3 267.9 L529.8 268.4 L532.3 269.4 L534.8 270.8 L537.3 272.5 L539.8 274.2 L542.3 275.9 L544.8 277.3 L547.3 278.2 L549.8 278.5 L552.3 278.4 L554.8 278.2 L557.3 277.9 L559.8 277.7 L562.3 277.4 L564.8 277.2 L567.3 276.9 L569.8 276.7 L572.3 276.5 L574.8 276.6 L577.3 277.2 L579.8 278.4 L582.3 280.1 L584.8 281.9 L587.3 283.8 L589.8 285.7 L592.3 287.6 L594.8 289.6 L597.3 291.5 L599.8 293.2 L602.3 294.6 L604.8 295.7 L607.3 296.6 L609.8 297.4 L612.3 298.2 L614.8 299.0 L617.3 299.7 L619.8 300.3 L622.3 300.8 L624.8 301.2 L627.3 301.7 L629.8 302.1 L632.3 302.6 L634.8 303.2 L637.3 303.9 L639.8 304.7 L642.3 305.3 L644.8 305.6 L647.3 305.2 L649.8 304.5 L652.3 303.6 L654.8 302.6 L657.3 301.7 L659.8 300.8 L662.3 299.9 L664.8 299.1 L667.3 298.4 L669.8 297.7 L672.3 297.0 L674.8 296.3 L677.3 295.6 L679.8 294.8 L682.3 294.1 L684.8 293.4 L687.3 292.6 L689.8 291.9 L692.3 291.0 L694.8 289.7 L697.3 288.0 L699.8 286.0 L702.3 283.8 L704.8 281.5 L707.3 279.3 L709.8 277.1 L712.3 274.9 L714.8 272.8 L717.3 270.6 L719.8 268.5 L722.3 266.3 L724.8 264.0 L727.3 261.6 L729.8 259.2 L732.3 256.7 L734.8 254.2 L737.3 251.6 L739.8 248.8 L742.3 245.9 L744.8 242.9 L747.3 239.9 L749.8 236.8 L752.3 233.9 L754.8 231.2 L757.3 229.0 L759.8 227.1 L762.3 225.5 L764.8 223.9 L767.3 222.4 L769.8 220.8 L772.3 219.2 L774.8 217.7 L777.3 216.2 L779.8 214.9 L782.3 213.6 L784.8 212.4 L787.3 211.1 L789.8 209.8 L792.3 208.4 L794.8 206.9 L797.3 205.5 L799.8 204.0 L802.3 202.5 L804.8 200.9 L807.3 199.2 L809.8 197.3 L812.3 195.4 L814.8 193.5 L817.3 191.6 L819.8 189.7 L822.3 187.9 L824.8 186.0 L827.3 184.2 L829.8 182.3 L832.3 180.5 L834.8 178.9 L837.3 177.9 L839.8 177.4 L842.3 177.3 L844.8 177.4 L847.3 177.7 L849.8 178.2 L852.3 178.9 L854.8 179.6 L857.3 180.3 L859.8 180.9 L862.3 181.3 L864.8 181.3 L867.3 181.0 L869.8 180.4 L872.3 179.8 L874.8 179.1 L877.3 178.3 L879.8 177.6 L882.3 176.8 L884.8 176.1 L887.3 175.6 L889.8 175.4 L892.3 175.5 L894.8 175.6 L897.3 175.9 L899.8 176.1 L902.3 176.4 L904.8 176.6 L907.3 177.0 L909.8 177.3 L912.3 177.8 L914.8 178.2 L917.3 178.6 L919.8 179.1 L922.3 179.8 L924.8 181.0 L927.3 182.7 L929.8 184.7 L932.3 186.8 L934.8 188.9 L937.3 191.0 L939.8 193.0 L942.3 194.9 L944.8 196.9 L947.3 198.8 L949.8 200.8" fill="none" stroke="#1fee1f" stroke-width="3" stroke-linejoin="round"/>
<!-- drawings -->
<path d="M20.8 577.8L1060 215.4" stroke="#0000cd" stroke-width="3.3" fill="none"/>
<ellipse cx="488.3" cy="207.5" rx="45.9" ry="40.8" transform="rotate(-4 488.3 207.5)" fill="rgba(95,245,245,0.4)" stroke="#2a7d32" stroke-width="2.3"/>
<!-- arcs -->
<path d="M731.6 210 Q 760.6 101.8, 789.6 210Z" fill="rgb(255,221,248)" style="mix-blend-mode:multiply" stroke="none"/><path d="M731.6 210 Q 760.6 101.8, 789.6 210Z" fill="rgba(255,60,220,0.23)" stroke="none"/>
<path d="M788 210 Q 828.3 12, 868.6 210Z" fill="rgb(255,221,248)" style="mix-blend-mode:multiply" stroke="none"/><path d="M788 210 Q 828.3 12, 868.6 210Z" fill="rgba(255,60,220,0.23)" stroke="none"/>
<path d="M846 209 Q 897.9 63.5, 949.8 209Z" fill="rgb(255,221,248)" style="mix-blend-mode:multiply" stroke="none"/><path d="M846 209 Q 897.9 63.5, 949.8 209Z" fill="rgba(255,60,220,0.23)" stroke="none"/>
<path d="M731.6 210 Q 760.6 101.8, 789.6 210" fill="none" stroke="#5b6ed0" stroke-width="3"/>
<path d="M788 210 Q 828.3 12, 868.6 210" fill="none" stroke="#2fd12f" stroke-width="3"/>
<path d="M846 209 Q 897.9 63.5, 949.8 209" fill="none" stroke="#2ec8f0" stroke-width="3"/>
<path d="M731.6 209.3H980" stroke="#0000d8" stroke-width="3" fill="none"/>
<!-- arrows -->
<g fill="none" stroke-width="3.1" stroke-linecap="butt">
<path d="M868.6 237L921 281.5M904.5 279.5L921 281.5L916.5 265.5" stroke="#9a20e8"/>
<path d="M926.7 284.9L973.1 248.9M956 250.2L973.1 248.9L967.2 265" stroke="#22ee22"/>
<path d="M994.4 248L1033.5 301.6M1017.5 294L1033.5 301.6L1031.5 285" stroke="#f020e0"/>
</g>
</g>
<!-- RSI circles -->
<g fill="rgba(110,215,255,0.42)" stroke="#7a1fd2" stroke-width="2.9">
<ellipse cx="484.7" cy="674.5" rx="34.9" ry="34.9"/>
<ellipse cx="747.2" cy="676.3" rx="37.3" ry="35"/>
<ellipse cx="868" cy="685.9" rx="33" ry="33.3"/>
</g>
<!-- 2011/2015/2018 box -->
<rect x="41.5" y="578.5" width="956.5" height="27" fill="rgba(214,228,240,0.72)" stroke="#5d6b78" stroke-width="1"/>
<text x="47" y="599" textLength="54.5" lengthAdjust="spacingAndGlyphs" class="lb" font-size="20" fill="#0000d0">2011</text>
<text x="479.5" y="599" textLength="54.5" lengthAdjust="spacingAndGlyphs" class="lb" font-size="20" fill="#0000d0">2015</text>
<text x="939.5" y="599" textLength="54.5" lengthAdjust="spacingAndGlyphs" class="lb" font-size="20" fill="#0000d0">2018</text>
<rect x="362.5" y="129.5" width="281.0" height="27.0" fill="rgba(214,228,240,0.72)" stroke="#5d6b78" stroke-width="1"/><text x="367.0" y="149.3" textLength="272.0" lengthAdjust="spacingAndGlyphs" class="lb" font-size="20" fill="#38761d">Bir Önceki Zirve - 12390</text>
<rect x="692.5" y="76.5" width="335.5" height="27.0" fill="rgba(214,228,240,0.72)" stroke="#5d6b78" stroke-width="1"/><text x="697.0" y="96.5" textLength="326.5" lengthAdjust="spacingAndGlyphs" class="lb" font-size="20" fill="#9b00f5">Büyüme Beklentileri Düşüyor</text>
<rect x="818.5" y="306.5" width="289.0" height="26.5" fill="rgba(214,228,240,0.72)" stroke="#5d6b78" stroke-width="1"/><text x="824.0" y="326.8" textLength="278.0" lengthAdjust="spacingAndGlyphs" class="lb" font-size="20" fill="#f31be6">Formasyon Hedefi 10550</text>
<rect x="590.5" y="396.5" width="285.5" height="26.0" fill="rgba(214,228,240,0.72)" stroke="#5d6b78" stroke-width="1"/><text x="596.0" y="417.3" textLength="275.0" lengthAdjust="spacingAndGlyphs" class="lb" font-size="20" fill="#0000d0">Mega Trend Test Ediliyor</text>
<rect x="607.5" y="721.5" width="229.0" height="27.0" fill="rgba(205,205,235,0.72)" stroke="#5d6b78" stroke-width="1"/><text x="612.0" y="742.0" textLength="220.0" lengthAdjust="spacingAndGlyphs" class="lb" font-size="20" fill="#9b00f5">Alım İştahı Azalıyor</text>
<!-- pane separator & axes -->
<path d="M2 633.5H1176" stroke="#555" stroke-width="1"/>
<path d="M1119.5 43V770" stroke="#555" stroke-width="1"/>
<path d="M2 769.5H1120" stroke="#555" stroke-width="1"/>
<g clip-path="url(#ca)">
<path d="M1120 623.5h3.5" stroke="#555" stroke-width="1"/>
<text x="1126.3" y="628.1" class="ax">4000.00</text>
<path d="M1120 571.5h3.5" stroke="#555" stroke-width="1"/>
<text x="1126.3" y="576.1" class="ax">5000.00</text>
<path d="M1120 518.5h3.5" stroke="#555" stroke-width="1"/>
<text x="1126.3" y="523.1" class="ax">6000.00</text>
<path d="M1120 466.5h3.5" stroke="#555" stroke-width="1"/>
<text x="1126.3" y="471.1" class="ax">7000.00</text>
<path d="M1120 414.5h3.5" stroke="#555" stroke-width="1"/>
<text x="1126.3" y="419.1" class="ax">8000.00</text>
<path d="M1120 362.5h3.5" stroke="#555" stroke-width="1"/>
<text x="1126.3" y="367.1" class="ax">9000.00</text>
<path d="M1120 310.5h3.5" stroke="#555" stroke-width="1"/>
<text x="1126.3" y="315.1" class="ax">10000.00</text>
<path d="M1120 257.5h3.5" stroke="#555" stroke-width="1"/>
<text x="1126.3" y="262.1" class="ax">11000.00</text>
<path d="M1120 205.5h3.5" stroke="#555" stroke-width="1"/>
<text x="1126.3" y="210.1" class="ax">12000.00</text>
<path d="M1120 153.5h3.5" stroke="#555" stroke-width="1"/>
<text x="1126.3" y="158.1" class="ax">13000.00</text>
<path d="M1120 101.5h3.5" stroke="#555" stroke-width="1"/>
<text x="1126.3" y="106.1" class="ax">14000.00</text>
<path d="M1120 49.5h3.5" stroke="#555" stroke-width="1"/>
<text x="1126.3" y="54.1" class="ax">15000.00</text>
<path d="M1120 638.5h3.5" stroke="#555" stroke-width="1"/>
<text x="1126.3" y="643.1" class="ax">80.0000</text>
<path d="M1120 680.5h3.5" stroke="#555" stroke-width="1"/>
<text x="1126.3" y="685.1" class="ax">60.0000</text>
<path d="M1120 722.5h3.5" stroke="#555" stroke-width="1"/>
<text x="1126.3" y="727.1" class="ax">40.0000</text>
<path d="M1120 764.5h3.5" stroke="#555" stroke-width="1"/>
<text x="1126.3" y="769.1" class="ax">20.0000</text>
</g>
<path d="M74.5 769.5v3.5" stroke="#555" stroke-width="1"/>
<text x="74.5" y="786.8" class="tx" text-anchor="middle">2012</text>
<path d="M201.5 769.5v3.5" stroke="#555" stroke-width="1"/>
<text x="201.5" y="786.8" class="tx" text-anchor="middle">2013</text>
<path d="M327.5 769.5v3.5" stroke="#555" stroke-width="1"/>
<text x="327.5" y="786.8" class="tx" text-anchor="middle">2014</text>
<path d="M453.5 769.5v3.5" stroke="#555" stroke-width="1"/>
<text x="453.5" y="786.8" class="tx" text-anchor="middle">2015</text>
<path d="M580.5 769.5v3.5" stroke="#555" stroke-width="1"/>
<text x="580.5" y="786.8" class="tx" text-anchor="middle">2016</text>
<path d="M706.5 769.5v3.5" stroke="#555" stroke-width="1"/>
<text x="706.5" y="786.8" class="tx" text-anchor="middle">2017</text>
<path d="M832.5 769.5v3.5" stroke="#555" stroke-width="1"/>
<text x="832.5" y="786.8" class="tx" text-anchor="middle">2018</text>
<path d="M961.5 769.5v3.5" stroke="#555" stroke-width="1"/>
<text x="961.5" y="786.8" class="tx" text-anchor="middle">2019</text>
<path d="M1087.5 769.5v3.5" stroke="#555" stroke-width="1"/>
<text x="1087.5" y="786.8" class="tx" text-anchor="middle">2020</text>
<!-- price label -->
<rect x="1119.5" y="253.5" width="55.5" height="16.5" fill="#e8524e"/>
<text x="1127" y="265.8" font-size="11" font-weight="bold" fill="#fff" class="pl" textLength="43.5" lengthAdjust="spacingAndGlyphs">10939.83</text>
</svg>
<div class="topline"></div>
<div class="tb"></div>
<!-- toolbar highlights / separators -->
<div style="position:absolute;left:281px;top:1px;width:109px;height:38px;background:#f0f3fa"></div>
<div class="sep" style="left:102px"></div>
<div class="sep" style="left:140px"></div>
<div class="sep" style="left:179px"></div>
<div class="sep" style="left:498px"></div>
<div class="sep" style="left:575px"></div>
<div class="sep" style="left:663px"></div>
<div class="sep" style="left:726px"></div>
<div class="sep" style="left:781px"></div>
<div class="sep" style="left:819px"></div>
<div class="sep" style="left:940px"></div>
<div class="sep" style="left:980px"></div>
<div class="sep" style="left:1018px"></div>
<div style="position:absolute;left:1057px;top:1px;width:119px;height:38px;background:#2e96ef;border-radius:0 0 4px 0"></div>
<div style="position:absolute;left:1137px;top:1px;width:1px;height:38px;background:#d8ecfc"></div>
<span class="t" id="t_dax" style="left:14.5px;font-weight:bold;font-size:13px;letter-spacing:-0.6px;color:#484848">DAX</span>
<span class="t" id="t_w" style="left:116px;font-size:13px">W</span>
<span class="t" id="t_cmp" style="left:215.5px;letter-spacing:-0.45px">Compare</span>
<span class="t" id="t_ind" style="left:317.5px">Indicators</span>
<span class="t" id="t_tpl" style="left:425.5px">Templates</span>
<span class="t" id="t_alr" style="left:535px;letter-spacing:0.25px">Alert</span>
<span class="t" id="t_rep" style="left:612px;letter-spacing:-0.55px">Replay</span>
<span class="t" id="t_unn" style="left:856px;letter-spacing:-0.4px">Unnamed</span>
<span class="t" id="t_pub" style="left:1073.5px;color:#fff;letter-spacing:0.23px">Publish</span>
<!-- toolbar icons -->
<svg width="1179" height="40" viewBox="0 0 1179 40" style="position:absolute;left:0;top:0" fill="none" stroke="#333" stroke-width="1.3">
<!-- candles -->
<path d="M156.5 10.5v4M156.5 25.5v4M164.5 13.5v3M164.5 23.5v3.5"/><rect x="154.2" y="14.5" width="4.6" height="11"/><rect x="162.2" y="16.5" width="4.6" height="7"/>
<!-- compare -->
<circle cx="198.5" cy="20.3" r="9.2"/><path d="M193.5 20.3h10M198.5 15.3v10"/>
<!-- indicators -->
<path d="M292.5 22.5c3.5-4.5 6-5.5 8.5-2.5s5 2.500 9.500-2.500"/>
<!-- templates -->
<path d="M400.200 17.500L404.300 13.600Q406.200 11.900 408.100 13.600L410.600 15.800Q412.500 17.500 414.400 15.800L418.700 11.300M400.200 22.600L404.300 18.700Q406.200 17 408.100 18.700L410.600 20.900Q412.500 22.600 414.400 20.900L418.700 16.400"/>
<path d="M400.400 26.800v1.200M403.450 24.300v3.700M406.500 22.100v5.900M409.500 24.100v3.900M412.500 25.900v2.100M415.500 24.300v3.700M418.500 21.100v6.900" stroke-width="1.250"/>
<!-- alert -->
<path d="M526.100 17.600A8.600 8.600 0 1 0 516.950 27.970"/><path d="M517.700 14.700v5.900h-3.700"/><path d="M509.200 16.700A3.600 3.600 0 0 1 514.200 11.500M521.200 11.500A3.600 3.600 0 0 1 526.200 16.700"/><path d="M523.300 22.200v8.400M519.100 26.400h8.400"/>
<!-- replay -->
<path d="M594.500 16l-6 4.600 6 4.600zM602.500 16l-6 4.600 6 4.600z" stroke-linejoin="round"/>
<!-- undo/redo -->
<path d="M678.500 13.500l-4 4 4 4M674.500 17.500h8.500a5 5 0 0 1 5 5v1.500"/>
<path d="M712 13.500l4 4-4 4M716 17.500h-8.500a5 5 0 0 0-5 5v1.500" stroke="#c9c9c9"/>
<!-- layout square -->
<rect x="791.500" y="11.500" width="18.500" height="16" rx="2.500"/>
<!-- cloud -->
<path d="M832.300 28.300h13a5.300 5.300 0 0 0 1-10.500a7.300 7.300 0 0 0-14-1.700a6.100 6.100 0 0 0 0 12.200z"/><path d="M834.500 21.300l3.200 3.200 6-6"/>
<path d="M926.500 18.500l3.500 3.500 3.500-3.500"/>
<!-- gear -->
<g transform="translate(960 20.300) scale(0.88)" stroke-width="1.45"><circle r="3.400"/><path d="M-1.700-9.300h3.400l.6 2.400 2.100.9 2.100-1.300 2.400 2.400-1.300 2.100.9 2.100 2.400.6v3.400l-2.400.6-.9 2.100 1.300 2.100-2.400 2.400-2.100-1.300-2.100.9-.6 2.400h-3.400l-.6-2.400-2.100-.9-2.100 1.300-2.400-2.400 1.300-2.100-.9-2.100-2.400-.6v-3.400l2.400-.6.9-2.100-1.300-2.100 2.400-2.400 2.100 1.300 2.100-.9z" stroke-linejoin="round"/></g>
<!-- fullscreen -->
<path d="M991.500 16.500v-4.500h4.500M991.500 12l5 5M1006.500 16.500v-4.500h-4.500M1006.500 12l-5 5M991.500 24v4.500h4.500M991.500 28.500l5-5M1006.500 24v4.500h-4.500M1006.500 28.500l-5-5"/>
<!-- camera -->
<path d="M1028.800 14.500h4.200l1.800-3h6l1.800 3h4.200a1.800 1.800 0 0 1 1.800 1.800v9.400a1.800 1.800 0 0 1-1.800 1.800h-18a1.800 1.800 0 0 1-1.800-1.800v-9.400a1.800 1.800 0 0 1 1.800-1.800z"/><circle cx="1037.800" cy="20.800" r="4.300"/>
<!-- play -->
<circle cx="1156" cy="20.300" r="9.500" stroke="#fff"/><path d="M1153 15.500v9.600l7.500-4.800z" fill="#fff" stroke="none"/>
</svg>

<!-- legend -->
<svg width="300" height="120" viewBox="0 0 300 120" style="position:absolute;left:0;top:40px" fill="none">
<rect x="7.500" y="15.500" width="12" height="12" rx="1.500" stroke="#555" stroke-width="1.100"/><path d="M10 21.500h7" stroke="#555" stroke-width="1.100"/>
<path d="M28 15.500h11.500l-3.500 6 3.500 6h-11.500z" fill="#c5c8d0"/>
<path d="M212 20.500l3.500 3.500 3.500-3.500z" fill="#c0c0c0"/>
</svg>
<span class="t" id="t_title" style="left:45.500px;top:53.5px;font-size:15.35px;color:#444">DAX INDEX, 1W, XETR</span>
<span class="oh" id="oh1" style="left:236.500px"><b>O</b></span>
<span class="oh" id="oh2" style="left:249.500px">11534.75</span>
<span class="oh" id="oh3" style="left:318px"><b>H</b></span>
<span class="oh" id="oh4" style="left:330px">11566.97</span>
<span class="oh" id="oh5" style="left:398.500px"><b>L</b></span>
<span class="oh" id="oh6" style="left:408px">10936.86</span>
<span class="oh" id="oh7" style="left:477.500px"><b>C</b></span>
<span class="oh" id="oh8" style="left:488.500px">10939.83</span>
<span class="oh" id="oh9" style="left:559px">−594.92 (−5.16%)</span>

<span class="lg" id="l1" style="top:76px">EMA (100, close)</span>
<span class="lg" id="l2" style="top:96px">EMA (200, close)</span>
<span class="lg" id="l3" style="top:117px;color:#c9c9c9">BB (12, close, 2)</span>
<span class="lg" id="l4" style="top:137px">EMA (50, close)</span>
<span class="v" id="v1" style="left:191.500px;top:76px;color:#3b74a6">12040.9276</span>
<span class="v" id="v2" style="left:191.500px;top:96px;color:#e31be0">11391.6094</span>
<span class="v" id="v4" style="left:185px;top:137px;color:#21dd21">12123.2945</span>
<span class="lg" id="l5" style="top:642px;left:7px">RSI (14, close)</span>
<span class="v" id="v5" style="left:179px;top:642px;color:#33d0ee">32.2489</span>
<svg width="300" height="797" viewBox="0 0 300 797" style="position:absolute;left:0;top:0"><rect x="118.0" y="76.5" width="14" height="13" fill="#d6d6d6"/><ellipse cx="125.0" cy="83.0" rx="4.3" ry="3.6" fill="none" stroke="#fff" stroke-width="1.2"/><circle cx="125.0" cy="83.0" r="1.5" fill="#fff"/><rect x="135.0" y="76.5" width="14" height="13" fill="#d6d6d6"/><circle cx="142.0" cy="83.0" r="3.9" fill="none" stroke="#fff" stroke-width="1.6" stroke-dasharray="1.55 1.51"/><circle cx="142.0" cy="83.0" r="2.5" fill="none" stroke="#fff" stroke-width="1.9"/><rect x="152.0" y="76.5" width="14" height="13" fill="#d6d6d6"/><path d="M155.0 83.0h8M159.0 79.0v8" stroke="#fff" stroke-width="2.2"/><rect x="169.0" y="76.5" width="14" height="13" fill="#d6d6d6"/><path d="M172.0 79.0l8 8M180.0 79.0l-8 8" stroke="#fff" stroke-width="1.8"/><path d="M100.5 82.0h7l-3.500 3.500z" fill="#bdbdbd"/><rect x="118.0" y="96.7" width="14" height="13" fill="#d6d6d6"/><ellipse cx="125.0" cy="103.2" rx="4.3" ry="3.6" fill="none" stroke="#fff" stroke-width="1.2"/><circle cx="125.0" cy="103.2" r="1.5" fill="#fff"/><rect x="135.0" y="96.7" width="14" height="13" fill="#d6d6d6"/><circle cx="142.0" cy="103.2" r="3.9" fill="none" stroke="#fff" stroke-width="1.6" stroke-dasharray="1.55 1.51"/><circle cx="142.0" cy="103.2" r="2.5" fill="none" stroke="#fff" stroke-width="1.9"/><rect x="152.0" y="96.7" width="14" height="13" fill="#d6d6d6"/><path d="M155.0 103.2h8M159.0 99.2v8" stroke="#fff" stroke-width="2.2"/><rect x="169.0" y="96.7" width="14" height="13" fill="#d6d6d6"/><path d="M172.0 99.2l8 8M180.0 99.2l-8 8" stroke="#fff" stroke-width="1.8"/><path d="M100.5 102.2h7l-3.500 3.500z" fill="#bdbdbd"/><rect x="117.0" y="117.5" width="14" height="13" fill="#2e90e8"/><ellipse cx="124.0" cy="124.0" rx="4.3" ry="3.6" fill="none" stroke="#fff" stroke-width="1.2"/><circle cx="124.0" cy="124.0" r="1.5" fill="#fff"/><rect x="134.0" y="117.5" width="14" height="13" fill="#d6d6d6"/><circle cx="141.0" cy="124.0" r="3.9" fill="none" stroke="#fff" stroke-width="1.6" stroke-dasharray="1.55 1.51"/><circle cx="141.0" cy="124.0" r="2.5" fill="none" stroke="#fff" stroke-width="1.9"/><rect x="151.0" y="117.5" width="14" height="13" fill="#d6d6d6"/><path d="M154.0 124.0h8M158.0 120.0v8" stroke="#fff" stroke-width="2.2"/><rect x="168.0" y="117.5" width="14" height="13" fill="#d6d6d6"/><path d="M171.0 120.0l8 8M179.0 120.0l-8 8" stroke="#fff" stroke-width="1.8"/><path d="M99.5 123.0h7l-3.500 3.500z" fill="#bdbdbd"/><rect x="111.0" y="137.7" width="14" height="13" fill="#d6d6d6"/><ellipse cx="118.0" cy="144.2" rx="4.3" ry="3.6" fill="none" stroke="#fff" stroke-width="1.2"/><circle cx="118.0" cy="144.2" r="1.5" fill="#fff"/><rect x="128.0" y="137.7" width="14" height="13" fill="#d6d6d6"/><circle cx="135.0" cy="144.2" r="3.9" fill="none" stroke="#fff" stroke-width="1.6" stroke-dasharray="1.55 1.51"/><circle cx="135.0" cy="144.2" r="2.5" fill="none" stroke="#fff" stroke-width="1.9"/><rect x="145.0" y="137.7" width="14" height="13" fill="#d6d6d6"/><path d="M148.0 144.2h8M152.0 140.2v8" stroke="#fff" stroke-width="2.2"/><rect x="162.0" y="137.7" width="14" height="13" fill="#d6d6d6"/><path d="M165.0 140.2l8 8M173.0 140.2l-8 8" stroke="#fff" stroke-width="1.8"/><path d="M93.5 143.2h7l-3.500 3.500z" fill="#bdbdbd"/><rect x="105.0" y="642.7" width="14" height="13" fill="#d6d6d6"/><ellipse cx="112.0" cy="649.2" rx="4.3" ry="3.6" fill="none" stroke="#fff" stroke-width="1.2"/><circle cx="112.0" cy="649.2" r="1.5" fill="#fff"/><rect x="122.0" y="642.7" width="14" height="13" fill="#d6d6d6"/><circle cx="129.0" cy="649.2" r="3.9" fill="none" stroke="#fff" stroke-width="1.6" stroke-dasharray="1.55 1.51"/><circle cx="129.0" cy="649.2" r="2.5" fill="none" stroke="#fff" stroke-width="1.9"/><rect x="139.0" y="642.7" width="14" height="13" fill="#d6d6d6"/><path d="M142.0 649.2h8M146.0 645.2v8" stroke="#fff" stroke-width="2.2"/><rect x="156.0" y="642.7" width="14" height="13" fill="#d6d6d6"/><path d="M159.0 645.2l8 8M167.0 645.2l-8 8" stroke="#fff" stroke-width="1.8"/><path d="M87.5 648.2h7l-3.500 3.500z" fill="#bdbdbd"/></svg>
<!-- delayed -->
<svg width="20" height="20" viewBox="0 0 20 20" style="position:absolute;left:1045.600px;top:50px" fill="none" stroke="#f2a55c" stroke-width="1.300"><circle cx="10" cy="10.600" r="7.100"/><path d="M10 6.500v5M10 13.300v1.400"/></svg>
<span class="v" id="dly" style="left:1070px;top:53.800px;color:#f2a55c;font-size:11.800px">Delayed</span>
</body></html>
